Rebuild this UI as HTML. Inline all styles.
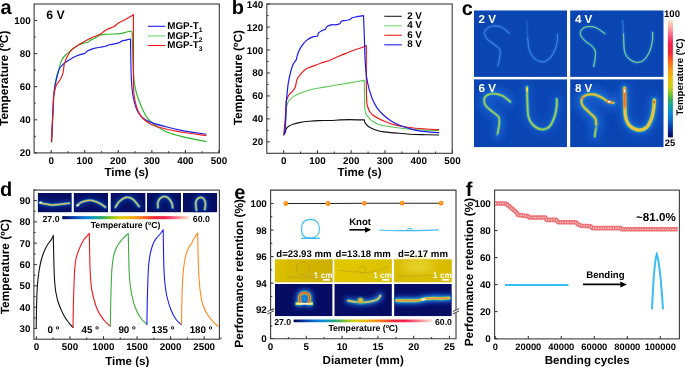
<!DOCTYPE html>
<html><head><meta charset="utf-8"><style>
html,body{margin:0;padding:0;background:#fff;width:685px;height:367px;overflow:hidden}
svg{display:block;font-family:"Liberation Sans", sans-serif;will-change:transform;text-rendering:geometricPrecision}
</style></head><body>
<svg width="685" height="367" viewBox="0 0 685 367">
<defs><filter id="b0_4" filterUnits="userSpaceOnUse" x="0" y="0" width="685" height="367"><feGaussianBlur stdDeviation="0.4"/></filter><filter id="b0_8" filterUnits="userSpaceOnUse" x="0" y="0" width="685" height="367"><feGaussianBlur stdDeviation="0.8"/></filter><filter id="b1_5" filterUnits="userSpaceOnUse" x="0" y="0" width="685" height="367"><feGaussianBlur stdDeviation="1.5"/></filter><filter id="b2_5" filterUnits="userSpaceOnUse" x="0" y="0" width="685" height="367"><feGaussianBlur stdDeviation="2.5"/></filter><filter id="b4" filterUnits="userSpaceOnUse" x="0" y="0" width="685" height="367"><feGaussianBlur stdDeviation="4"/></filter><clipPath id="cc0"><rect x="473.8" y="10.3" width="93.3" height="66.6"/></clipPath><clipPath id="cc1"><rect x="570.1" y="10.3" width="93.6" height="66.6"/></clipPath><clipPath id="cc2"><rect x="473.8" y="79.2" width="93.3" height="68.1"/></clipPath><clipPath id="cc3"><rect x="570.1" y="79.2" width="93.6" height="68.1"/></clipPath><linearGradient id="cbar" x1="0" y1="0" x2="0" y2="1">
<stop offset="0" stop-color="#fbe2c4"/><stop offset="0.05" stop-color="#fbb6a8"/><stop offset="0.12" stop-color="#fb6a88"/>
<stop offset="0.2" stop-color="#f4204c"/><stop offset="0.28" stop-color="#f42838"/><stop offset="0.34" stop-color="#f85a20"/>
<stop offset="0.42" stop-color="#f89a18"/><stop offset="0.5" stop-color="#ecc010"/><stop offset="0.56" stop-color="#d4d010"/>
<stop offset="0.62" stop-color="#88c428"/><stop offset="0.68" stop-color="#34ac5c"/><stop offset="0.74" stop-color="#10a0a8"/>
<stop offset="0.8" stop-color="#0c88dc"/><stop offset="0.87" stop-color="#0c5ec4"/><stop offset="0.93" stop-color="#0a30a0"/>
<stop offset="1" stop-color="#020650"/></linearGradient><clipPath id="dt0"><rect x="37.7" y="193" width="34.1" height="19.4"/></clipPath><clipPath id="dt1"><rect x="73.6" y="193" width="34.4" height="19.4"/></clipPath><clipPath id="dt2"><rect x="110.5" y="193" width="35.1" height="19.4"/></clipPath><clipPath id="dt3"><rect x="146.9" y="193" width="34.1" height="19.4"/></clipPath><clipPath id="dt4"><rect x="182.8" y="193" width="34.5" height="19.4"/></clipPath><linearGradient id="hbar" x1="0" y1="0" x2="1" y2="0">
<stop offset="0" stop-color="#020650"/><stop offset="0.07" stop-color="#0a30a0"/><stop offset="0.13" stop-color="#0c5ec4"/>
<stop offset="0.2" stop-color="#0c88dc"/><stop offset="0.26" stop-color="#10a0a8"/><stop offset="0.32" stop-color="#34ac5c"/>
<stop offset="0.38" stop-color="#88c428"/><stop offset="0.44" stop-color="#d4d010"/><stop offset="0.5" stop-color="#ecc010"/>
<stop offset="0.58" stop-color="#f89a18"/><stop offset="0.66" stop-color="#f85a20"/><stop offset="0.72" stop-color="#f42838"/>
<stop offset="0.8" stop-color="#f4204c"/><stop offset="0.88" stop-color="#fb6a88"/><stop offset="0.95" stop-color="#fbb6a8"/>
<stop offset="1" stop-color="#fbeee4"/></linearGradient><linearGradient id="pg0" x1="0" y1="0" x2="1" y2="0"><stop offset="0" stop-color="#dcc000"/><stop offset="1" stop-color="#cbae00"/></linearGradient><linearGradient id="pg1" x1="0" y1="0" x2="1" y2="0"><stop offset="0" stop-color="#e2c800"/><stop offset="1" stop-color="#dcc200"/></linearGradient><linearGradient id="pg2" x1="0" y1="0" x2="1" y2="0"><stop offset="0" stop-color="#d8bc00"/><stop offset="1" stop-color="#d8bc00"/></linearGradient><clipPath id="et0"><rect x="274.9" y="284.0" width="57.7" height="32.3"/></clipPath><clipPath id="et1"><rect x="334.3" y="284.0" width="57.6" height="32.3"/></clipPath><clipPath id="et2"><rect x="394.1" y="284.0" width="57.7" height="32.3"/></clipPath></defs>
<rect width="685" height="367" fill="#fff"/>
<text x="0.5" y="14" font-size="20" text-anchor="start" font-weight="bold" fill="#000" >a</text>
<path d="M51.6,142.2 L53.9,94 C54.1,92.5 54.58,88.17 55.1,85 C55.62,81.83 56.37,77.65 57,75 C57.63,72.35 58.18,71.43 58.9,69.1 C59.62,66.77 60.35,63.18 61.3,61 C62.25,58.82 62.95,57.78 64.6,56 C66.25,54.22 69.02,52.07 71.2,50.3 C73.38,48.53 75.73,46.53 77.7,45.4 C79.67,44.27 81.23,44.03 83,43.5 C84.77,42.97 87.42,42.42 88.3,42.2 C88.58,41.92 89.05,41.1 90,40.5 C90.95,39.9 92.33,39.48 94,38.6 C95.67,37.72 97.87,35.92 100,35.2 C102.13,34.48 103.4,34.57 106.8,34.3 C110.2,34.03 117.22,33.95 120.4,33.6 C123.58,33.25 124.3,32.6 125.9,32.2 C127.5,31.8 129.05,31.32 130,31.2 C130.95,31.08 131.23,31.28 131.6,31.5 C131.97,31.72 132.1,32.33 132.2,32.5 C132.27,35.42 132.42,43.75 132.6,50 C132.78,56.25 133.02,64.67 133.3,70 C133.58,75.33 133.82,78.33 134.3,82 C134.78,85.67 135.3,88.58 136.2,92 C137.1,95.42 138.3,98.92 139.7,102.5 C141.1,106.08 142.97,110.5 144.6,113.5 C146.23,116.5 147.32,118.28 149.5,120.5 C151.68,122.72 154.68,124.85 157.7,126.8 C160.72,128.75 163.5,130.57 167.6,132.2 C171.7,133.83 175.9,135.03 182.3,136.6 C188.7,138.17 202.05,140.77 206,141.6" fill="none" stroke="#2db82d" stroke-width="1.15" stroke-linejoin="round" stroke-linecap="round" />
<path d="M51.6,141.5 L53.7,95 C53.93,93.33 54.47,88.33 55.1,85 C55.73,81.67 56.73,77.78 57.5,75 C58.27,72.22 58.78,70.05 59.7,68.3 C60.62,66.55 61.9,65.58 63,64.5 C64.1,63.42 64.67,62.93 66.3,61.8 C67.93,60.67 70.63,58.85 72.8,57.7 C74.97,56.55 77.27,55.63 79.3,54.9 C81.33,54.17 84.05,53.57 85,53.3 C85.47,52.88 86.3,51.62 87.8,50.8 C89.3,49.98 91.97,49 94,48.4 C96.03,47.8 98.1,47.55 100,47.2 C101.9,46.85 103.82,46.7 105.4,46.3 C106.98,45.9 107.45,45.33 109.5,44.8 C111.55,44.27 115.65,43.72 117.7,43.1 C119.75,42.48 120.43,41.6 121.8,41.1 C123.17,40.6 124.45,40.45 125.9,40.1 C127.35,39.75 129.73,39.18 130.5,39 C130.55,42.5 130.65,53.17 130.8,60 C130.95,66.83 131.13,74.67 131.4,80 C131.67,85.33 131.97,88.58 132.4,92 C132.83,95.42 133.18,97.37 134,100.5 C134.82,103.63 136.07,108.12 137.3,110.8 C138.53,113.48 139.37,114.75 141.4,116.6 C143.43,118.45 145.42,120.2 149.5,121.9 C153.58,123.6 160.43,125.35 165.9,126.8 C171.37,128.25 175.62,129.37 182.3,130.6 C188.98,131.83 202.05,133.6 206,134.2" fill="none" stroke="#1c1cf0" stroke-width="1.15" stroke-linejoin="round" stroke-linecap="round" />
<path d="M51.4,141.2 L53.6,96 C53.75,95.33 54.03,93.83 54.5,92 C54.97,90.17 55.48,87 56.4,85 C57.32,83 58.9,81.97 60,80 C61.1,78.03 62.28,75.83 63,73.2 C63.72,70.57 63.48,67.2 64.3,64.2 C65.12,61.2 66.48,57.78 67.9,55.2 C69.32,52.62 70.9,50.47 72.8,48.7 C74.7,46.93 76.85,46.1 79.3,44.6 C81.75,43.1 85.05,41 87.5,39.7 C89.95,38.4 91.92,37.7 94,36.8 C96.08,35.9 97.87,35.52 100,34.3 C102.13,33.08 104.53,30.75 106.8,29.5 C109.07,28.25 111.57,27.93 113.6,26.8 C115.63,25.67 117.18,23.83 119,22.7 C120.82,21.57 122.78,20.9 124.5,20 C126.22,19.1 127.82,18.22 129.3,17.3 C130.78,16.38 132.72,14.97 133.4,14.5 C133.4,20.42 133.38,38.25 133.4,50 C133.42,61.75 133.37,77.33 133.5,85 C133.63,92.67 133.85,93 134.2,96 C134.55,99 134.97,100.5 135.6,103 C136.23,105.5 136.77,108.42 138,111 C139.23,113.58 140.8,116.27 143,118.5 C145.2,120.73 147.38,122.65 151.2,124.4 C155.02,126.15 160.72,127.7 165.9,129 C171.08,130.3 175.62,131.12 182.3,132.2 C188.98,133.28 202.05,134.95 206,135.5" fill="none" stroke="#f01818" stroke-width="1.15" stroke-linejoin="round" stroke-linecap="round" />
<rect x="34.1" y="4" width="185.2" height="148.9" fill="none" stroke="#3a3a3a" stroke-width="1.1"/>
<line x1="51.2" y1="152.9" x2="51.2" y2="149.9" stroke="#3a3a3a" stroke-width="1.1"/>
<line x1="84.75" y1="152.9" x2="84.75" y2="149.9" stroke="#3a3a3a" stroke-width="1.1"/>
<line x1="118.3" y1="152.9" x2="118.3" y2="149.9" stroke="#3a3a3a" stroke-width="1.1"/>
<line x1="151.85" y1="152.9" x2="151.85" y2="149.9" stroke="#3a3a3a" stroke-width="1.1"/>
<line x1="185.4" y1="152.9" x2="185.4" y2="149.9" stroke="#3a3a3a" stroke-width="1.1"/>
<line x1="218.95" y1="152.9" x2="218.95" y2="149.9" stroke="#3a3a3a" stroke-width="1.1"/>
<line x1="67.98" y1="152.9" x2="67.98" y2="151.2" stroke="#3a3a3a" stroke-width="1.1"/>
<line x1="101.53" y1="152.9" x2="101.53" y2="151.2" stroke="#3a3a3a" stroke-width="1.1"/>
<line x1="135.07" y1="152.9" x2="135.07" y2="151.2" stroke="#3a3a3a" stroke-width="1.1"/>
<line x1="168.62" y1="152.9" x2="168.62" y2="151.2" stroke="#3a3a3a" stroke-width="1.1"/>
<line x1="202.18" y1="152.9" x2="202.18" y2="151.2" stroke="#3a3a3a" stroke-width="1.1"/>
<text x="51.2" y="164.3" font-size="9.8" text-anchor="middle" font-weight="bold" fill="#000" >0</text>
<text x="84.75" y="164.3" font-size="9.8" text-anchor="middle" font-weight="bold" fill="#000" >100</text>
<text x="118.3" y="164.3" font-size="9.8" text-anchor="middle" font-weight="bold" fill="#000" >200</text>
<text x="151.85" y="164.3" font-size="9.8" text-anchor="middle" font-weight="bold" fill="#000" >300</text>
<text x="185.4" y="164.3" font-size="9.8" text-anchor="middle" font-weight="bold" fill="#000" >400</text>
<text x="218.95" y="164.3" font-size="9.8" text-anchor="middle" font-weight="bold" fill="#000" >500</text>
<line x1="34.1" y1="152.9" x2="37.1" y2="152.9" stroke="#3a3a3a" stroke-width="1.1"/>
<line x1="34.1" y1="119.79" x2="37.1" y2="119.79" stroke="#3a3a3a" stroke-width="1.1"/>
<line x1="34.1" y1="86.68" x2="37.1" y2="86.68" stroke="#3a3a3a" stroke-width="1.1"/>
<line x1="34.1" y1="53.57" x2="37.1" y2="53.57" stroke="#3a3a3a" stroke-width="1.1"/>
<line x1="34.1" y1="20.46" x2="37.1" y2="20.46" stroke="#3a3a3a" stroke-width="1.1"/>
<line x1="34.1" y1="136.34" x2="35.8" y2="136.34" stroke="#3a3a3a" stroke-width="1.1"/>
<line x1="34.1" y1="103.24" x2="35.8" y2="103.24" stroke="#3a3a3a" stroke-width="1.1"/>
<line x1="34.1" y1="70.12" x2="35.8" y2="70.12" stroke="#3a3a3a" stroke-width="1.1"/>
<line x1="34.1" y1="37.02" x2="35.8" y2="37.02" stroke="#3a3a3a" stroke-width="1.1"/>
<text x="30.6" y="156.4" font-size="9.8" text-anchor="end" font-weight="bold" fill="#000" >20</text>
<text x="30.6" y="123.29" font-size="9.8" text-anchor="end" font-weight="bold" fill="#000" >40</text>
<text x="30.6" y="90.18" font-size="9.8" text-anchor="end" font-weight="bold" fill="#000" >60</text>
<text x="30.6" y="57.07" font-size="9.8" text-anchor="end" font-weight="bold" fill="#000" >80</text>
<text x="30.6" y="23.96" font-size="9.8" text-anchor="end" font-weight="bold" fill="#000" >100</text>
<text x="126.6" y="176" font-size="11.6" text-anchor="middle" font-weight="bold" fill="#000" >Time (s)</text>
<text transform="translate(8.2,78.3) rotate(-90)" font-size="11.9" text-anchor="middle" font-weight="bold" fill="#000">Temperature (&#186;C)</text>
<text x="46.3" y="19.3" font-size="12.2" text-anchor="start" font-weight="bold" fill="#000" >6 V</text>
<line x1="148" y1="26.3" x2="165.3" y2="26.3" stroke="#1c1cf0" stroke-width="1.1"/>
<text x="167.3" y="28.9" font-size="9.8" font-weight="bold">MGP-T<tspan font-size="6.7" dy="3.0">1</tspan></text>
<line x1="148" y1="35.9" x2="165.3" y2="35.9" stroke="#6fd86f" stroke-width="1.1"/>
<text x="167.3" y="38.5" font-size="9.8" font-weight="bold">MGP-T<tspan font-size="6.7" dy="3.0">2</tspan></text>
<line x1="148" y1="45.5" x2="165.3" y2="45.5" stroke="#f01818" stroke-width="1.1"/>
<text x="167.3" y="48.1" font-size="9.8" font-weight="bold">MGP-T<tspan font-size="6.7" dy="3.0">3</tspan></text>
<text x="231.8" y="14" font-size="20" text-anchor="start" font-weight="bold" fill="#000" >b</text>
<path d="M283.9,134.7 C284.17,134.23 285.1,132.92 285.5,131.9 C285.9,130.88 285.75,129.55 286.3,128.6 C286.85,127.65 287.7,126.93 288.8,126.2 C289.9,125.47 291.13,124.8 292.9,124.2 C294.67,123.6 296.68,123.08 299.4,122.6 C302.12,122.12 305.93,121.63 309.2,121.3 C312.47,120.97 315.53,120.73 319,120.6 C322.47,120.47 326.53,120.62 330,120.5 C333.47,120.38 336.53,120.05 339.8,119.9 C343.07,119.75 345.52,119.6 349.6,119.6 C353.68,119.6 361.85,119.85 364.3,119.9 C364.43,120.4 364.28,121.72 365.1,122.9 C365.92,124.08 367.42,125.83 369.2,127 C370.98,128.17 373.33,129.08 375.8,129.9 C378.27,130.72 380.83,131.4 384,131.9 C387.17,132.4 390.55,132.52 394.8,132.9 C399.05,133.28 404.32,133.9 409.5,134.2 C414.68,134.5 421.05,134.57 425.9,134.7 C430.75,134.83 436.48,134.95 438.6,135" fill="none" stroke="#111" stroke-width="1.1" stroke-linejoin="round" stroke-linecap="round" />
<path d="M283.9,134.7 C284.18,132.25 285.17,124.62 285.6,120 C286.03,115.38 286.35,109.17 286.5,107 C286.88,105.97 287.47,102.65 288.8,100.8 C290.13,98.95 292.18,97.32 294.5,95.9 C296.82,94.48 299.7,93.4 302.7,92.3 C305.7,91.2 309.5,90.07 312.5,89.3 C315.5,88.53 317.78,88.22 320.7,87.7 C323.62,87.18 326.82,86.73 330,86.2 C333.18,85.67 336.53,85.05 339.8,84.5 C343.07,83.95 345.52,83.58 349.6,82.9 C353.68,82.22 361.85,80.82 364.3,80.4 C364.33,82.83 364.42,90.4 364.5,95 C364.58,99.6 364.58,104.92 364.8,108 C365.02,111.08 365.33,112.12 365.8,113.5 C366.27,114.88 366.48,115 367.6,116.3 C368.72,117.6 370.6,119.93 372.5,121.3 C374.4,122.67 376.08,123.58 379,124.5 C381.92,125.42 384.92,126.03 390,126.8 C395.08,127.57 403.52,128.55 409.5,129.1 C415.48,129.65 421.05,129.85 425.9,130.1 C430.75,130.35 436.48,130.52 438.6,130.6" fill="none" stroke="#55c855" stroke-width="1.1" stroke-linejoin="round" stroke-linecap="round" />
<path d="M283.9,134.7 C284.17,131.42 285.1,120.65 285.5,115 C285.9,109.35 286.17,103.17 286.3,100.8 C286.72,99.83 287.85,96.5 288.8,95 C289.75,93.5 290.92,93.15 292,91.8 C293.08,90.45 294.47,88.95 295.3,86.9 C296.13,84.85 296.18,81.55 297,79.5 C297.82,77.45 298.7,76.37 300.2,74.6 C301.7,72.83 303.95,70.27 306,68.9 C308.05,67.53 310.05,67.35 312.5,66.4 C314.95,65.45 317.78,64.23 320.7,63.2 C323.62,62.17 327.08,61.32 330,60.2 C332.92,59.08 335.48,57.67 338.2,56.5 C340.92,55.33 343.58,54.28 346.3,53.2 C349.02,52.12 351.77,51 354.5,50 C357.23,49 360.73,47.95 362.7,47.2 C364.67,46.45 365.7,45.78 366.3,45.5 C366.3,50.42 366.25,65.92 366.3,75 C366.35,84.08 366.4,94.83 366.6,100 C366.8,105.17 367.03,104.17 367.5,106 C367.97,107.83 368.57,109.55 369.4,111 C370.23,112.45 370.9,113.4 372.5,114.7 C374.1,116 376.92,117.67 379,118.8 C381.08,119.93 382.37,120.5 385,121.5 C387.63,122.5 390.72,123.8 394.8,124.8 C398.88,125.8 404.32,126.8 409.5,127.5 C414.68,128.2 421.05,128.63 425.9,129 C430.75,129.37 436.48,129.58 438.6,129.7" fill="none" stroke="#f01818" stroke-width="1.2" stroke-linejoin="round" stroke-linecap="round" />
<path d="M283.9,134.7 C283.98,134.5 284.17,134.65 284.4,133.5 C284.63,132.35 285.05,130.88 285.3,127.8 C285.55,124.72 285.73,119.23 285.9,115 C286.07,110.77 286.08,106.13 286.3,102.4 C286.52,98.67 286.87,95.87 287.2,92.6 C287.53,89.33 287.77,86.07 288.3,82.8 C288.83,79.53 289.63,76 290.4,73 C291.17,70 291.92,67 292.9,64.8 C293.88,62.6 295.73,60.63 296.3,59.8 C296.58,58.7 297.17,55.38 298,53.2 C298.83,51.02 299.93,48.8 301.3,46.7 C302.67,44.6 304.3,42.23 306.2,40.6 C308.1,38.97 310.8,37.65 312.7,36.9 C314.6,36.15 316.65,36.73 317.6,36.1 C318.55,35.47 317.58,34.07 318.4,33.1 C319.22,32.13 321.4,30.9 322.5,30.3 C323.6,29.7 324.18,30.17 325,29.5 C325.82,28.83 326.18,27.12 327.4,26.3 C328.62,25.48 331.05,24.83 332.3,24.6 C333.55,24.37 333.65,25.03 334.9,24.9 C336.15,24.77 338.72,24.4 339.8,23.8 C340.88,23.2 340.45,21.85 341.4,21.3 C342.35,20.75 344.13,20.77 345.5,20.5 C346.87,20.23 348.5,20.15 349.6,19.7 C350.7,19.25 351,18.28 352.1,17.8 C353.2,17.32 354.3,17.17 356.2,16.8 C358.1,16.43 362.28,15.8 363.5,15.6 C363.63,18.83 364.03,27.6 364.3,35 C364.57,42.4 364.72,53 365.1,60 C365.48,67 365.92,72.1 366.6,77 C367.28,81.9 368.22,85.7 369.2,89.4 C370.18,93.1 371.13,96.03 372.5,99.2 C373.87,102.37 375.48,105.68 377.4,108.4 C379.32,111.12 381.65,113.37 384,115.5 C386.35,117.63 388.88,119.58 391.5,121.2 C394.12,122.82 396.7,123.98 399.7,125.2 C402.7,126.42 405.95,127.52 409.5,128.5 C413.05,129.48 416.15,130.42 421,131.1 C425.85,131.78 435.67,132.35 438.6,132.6" fill="none" stroke="#1c1cf0" stroke-width="1.2" stroke-linejoin="round" stroke-linecap="round" />
<rect x="266.8" y="4" width="185.4" height="149.3" fill="none" stroke="#3a3a3a" stroke-width="1.1"/>
<line x1="283.7" y1="153.3" x2="283.7" y2="150.3" stroke="#3a3a3a" stroke-width="1.1"/>
<line x1="317.45" y1="153.3" x2="317.45" y2="150.3" stroke="#3a3a3a" stroke-width="1.1"/>
<line x1="351.2" y1="153.3" x2="351.2" y2="150.3" stroke="#3a3a3a" stroke-width="1.1"/>
<line x1="384.95" y1="153.3" x2="384.95" y2="150.3" stroke="#3a3a3a" stroke-width="1.1"/>
<line x1="418.7" y1="153.3" x2="418.7" y2="150.3" stroke="#3a3a3a" stroke-width="1.1"/>
<line x1="452.45" y1="153.3" x2="452.45" y2="150.3" stroke="#3a3a3a" stroke-width="1.1"/>
<line x1="300.57" y1="153.3" x2="300.57" y2="151.6" stroke="#3a3a3a" stroke-width="1.1"/>
<line x1="334.32" y1="153.3" x2="334.32" y2="151.6" stroke="#3a3a3a" stroke-width="1.1"/>
<line x1="368.07" y1="153.3" x2="368.07" y2="151.6" stroke="#3a3a3a" stroke-width="1.1"/>
<line x1="401.82" y1="153.3" x2="401.82" y2="151.6" stroke="#3a3a3a" stroke-width="1.1"/>
<line x1="435.57" y1="153.3" x2="435.57" y2="151.6" stroke="#3a3a3a" stroke-width="1.1"/>
<text x="283.7" y="164.3" font-size="9.8" text-anchor="middle" font-weight="bold" fill="#000" >0</text>
<text x="317.45" y="164.3" font-size="9.8" text-anchor="middle" font-weight="bold" fill="#000" >100</text>
<text x="351.2" y="164.3" font-size="9.8" text-anchor="middle" font-weight="bold" fill="#000" >200</text>
<text x="384.95" y="164.3" font-size="9.8" text-anchor="middle" font-weight="bold" fill="#000" >300</text>
<text x="418.7" y="164.3" font-size="9.8" text-anchor="middle" font-weight="bold" fill="#000" >400</text>
<text x="452.45" y="164.3" font-size="9.8" text-anchor="middle" font-weight="bold" fill="#000" >500</text>
<line x1="266.8" y1="141.82" x2="269.8" y2="141.82" stroke="#3a3a3a" stroke-width="1.1"/>
<line x1="266.8" y1="118.87" x2="269.8" y2="118.87" stroke="#3a3a3a" stroke-width="1.1"/>
<line x1="266.8" y1="95.92" x2="269.8" y2="95.92" stroke="#3a3a3a" stroke-width="1.1"/>
<line x1="266.8" y1="72.96" x2="269.8" y2="72.96" stroke="#3a3a3a" stroke-width="1.1"/>
<line x1="266.8" y1="50.01" x2="269.8" y2="50.01" stroke="#3a3a3a" stroke-width="1.1"/>
<line x1="266.8" y1="27.05" x2="269.8" y2="27.05" stroke="#3a3a3a" stroke-width="1.1"/>
<line x1="266.8" y1="4.1" x2="269.8" y2="4.1" stroke="#3a3a3a" stroke-width="1.1"/>
<line x1="266.8" y1="130.35" x2="268.5" y2="130.35" stroke="#3a3a3a" stroke-width="1.1"/>
<line x1="266.8" y1="107.39" x2="268.5" y2="107.39" stroke="#3a3a3a" stroke-width="1.1"/>
<line x1="266.8" y1="84.44" x2="268.5" y2="84.44" stroke="#3a3a3a" stroke-width="1.1"/>
<line x1="266.8" y1="61.48" x2="268.5" y2="61.48" stroke="#3a3a3a" stroke-width="1.1"/>
<line x1="266.8" y1="38.53" x2="268.5" y2="38.53" stroke="#3a3a3a" stroke-width="1.1"/>
<line x1="266.8" y1="15.58" x2="268.5" y2="15.58" stroke="#3a3a3a" stroke-width="1.1"/>
<text x="263.2" y="145.32" font-size="9.8" text-anchor="end" font-weight="bold" fill="#000" >20</text>
<text x="263.2" y="122.37" font-size="9.8" text-anchor="end" font-weight="bold" fill="#000" >40</text>
<text x="263.2" y="99.42" font-size="9.8" text-anchor="end" font-weight="bold" fill="#000" >60</text>
<text x="263.2" y="76.46" font-size="9.8" text-anchor="end" font-weight="bold" fill="#000" >80</text>
<text x="263.2" y="53.51" font-size="9.8" text-anchor="end" font-weight="bold" fill="#000" >100</text>
<text x="263.2" y="30.55" font-size="9.8" text-anchor="end" font-weight="bold" fill="#000" >120</text>
<text x="263.2" y="7.6" font-size="9.8" text-anchor="end" font-weight="bold" fill="#000" >140</text>
<text x="359.5" y="176.3" font-size="11.6" text-anchor="middle" font-weight="bold" fill="#000" >Time (s)</text>
<text transform="translate(242.2,77.7) rotate(-90)" font-size="11.9" text-anchor="middle" font-weight="bold" fill="#000">Temperature (&#186;C)</text>
<line x1="384.3" y1="16.3" x2="401.8" y2="16.3" stroke="#222" stroke-width="1.1"/>
<text x="407.2" y="18.8" font-size="9.8" text-anchor="start" font-weight="bold" fill="#000" >2 V</text>
<line x1="384.3" y1="25.8" x2="401.8" y2="25.8" stroke="#6fd86f" stroke-width="1.1"/>
<text x="407.2" y="28.3" font-size="9.8" text-anchor="start" font-weight="bold" fill="#000" >4 V</text>
<line x1="384.3" y1="35.3" x2="401.8" y2="35.3" stroke="#f02020" stroke-width="1.1"/>
<text x="407.2" y="37.8" font-size="9.8" text-anchor="start" font-weight="bold" fill="#000" >6 V</text>
<line x1="384.3" y1="44.8" x2="401.8" y2="44.8" stroke="#2020f0" stroke-width="1.1"/>
<text x="407.2" y="47.3" font-size="9.8" text-anchor="start" font-weight="bold" fill="#000" >8 V</text>
<text x="461.8" y="15.3" font-size="20" text-anchor="start" font-weight="bold" fill="#000" >c</text>
<g clip-path="url(#cc0)">
<rect x="473.8" y="10.3" width="93.3" height="66.6" fill="#0b45b2"/>
<path d="M509.1,33.1 C507.72,32.03 503.73,27.83 500.8,26.7 C497.87,25.57 493.97,25.85 491.5,26.3 C489.03,26.75 487.17,28.12 486,29.4 C484.83,30.68 484.2,32.3 484.5,34 C484.8,35.7 486.02,37.73 487.8,39.6 C489.58,41.47 493.18,43.5 495.2,45.2 C497.22,46.9 499.12,47.95 499.9,49.8 C500.68,51.65 500.22,53.67 499.9,56.3 C499.58,58.93 498.32,64.05 498,65.6" fill="none" stroke="#1858c4" stroke-width="2.8" stroke-linecap="round" stroke-linejoin="round" filter="url(#b0_8)"/>
<path d="M509.1,33.1 C507.72,32.03 503.73,27.83 500.8,26.7 C497.87,25.57 493.97,25.85 491.5,26.3 C489.03,26.75 487.17,28.12 486,29.4 C484.83,30.68 484.2,32.3 484.5,34 C484.8,35.7 486.02,37.73 487.8,39.6 C489.58,41.47 493.18,43.5 495.2,45.2 C497.22,46.9 499.12,47.95 499.9,49.8 C500.68,51.65 500.22,53.67 499.9,56.3 C499.58,58.93 498.32,64.05 498,65.6" fill="none" stroke="#3a86dc" stroke-width="1.1" stroke-linecap="round" stroke-linejoin="round" filter="url(#b0_3)"/>
<g opacity="0.45">
<path d="M527,21.1 C527.05,22.58 527.2,27.22 527.3,30 C527.4,32.78 527.55,36.5 527.6,37.8" fill="none" stroke="#1858c4" stroke-width="2.8" stroke-linecap="round" stroke-linejoin="round" filter="url(#b0_8)"/>
<path d="M527,21.1 C527.05,22.58 527.2,27.22 527.3,30 C527.4,32.78 527.55,36.5 527.6,37.8" fill="none" stroke="#3a86dc" stroke-width="1.1" stroke-linecap="round" stroke-linejoin="round" filter="url(#b0_3)"/>
</g>
<path d="M527.6,37.8 C527.92,39.95 528.43,47.32 529.5,50.7 C530.57,54.08 532,56.23 534,58.1 C536,59.97 539.02,61.73 541.5,61.9 C543.98,62.07 546.73,60.97 548.9,59.1 C551.07,57.23 553.1,53.63 554.5,50.7 C555.9,47.77 556.83,44.27 557.3,41.5 C557.77,38.73 557.3,35.33 557.3,34.1" fill="none" stroke="#1858c4" stroke-width="2.8" stroke-linecap="round" stroke-linejoin="round" filter="url(#b0_8)"/>
<path d="M527.6,37.8 C527.92,39.95 528.43,47.32 529.5,50.7 C530.57,54.08 532,56.23 534,58.1 C536,59.97 539.02,61.73 541.5,61.9 C543.98,62.07 546.73,60.97 548.9,59.1 C551.07,57.23 553.1,53.63 554.5,50.7 C555.9,47.77 556.83,44.27 557.3,41.5 C557.77,38.73 557.3,35.33 557.3,34.1" fill="none" stroke="#3a86dc" stroke-width="1.1" stroke-linecap="round" stroke-linejoin="round" filter="url(#b0_3)"/>
</g>
<text x="478.6" y="23.1" font-size="11.6" text-anchor="start" font-weight="bold" fill="#fff" >2 V</text>
<g clip-path="url(#cc1)">
<rect x="570.1" y="10.3" width="93.6" height="66.6" fill="#0b45b2"/>
<path d="M605,33.7 C603.47,32.68 598.88,28.77 595.8,27.6 C592.72,26.43 588.97,26.23 586.5,26.7 C584.03,27.17 581.98,29.02 581,30.4 C580.02,31.78 579.98,33.3 580.6,35 C581.22,36.7 582.8,38.75 584.7,40.6 C586.6,42.45 590.22,44.25 592,46.1 C593.78,47.95 594.92,49.38 595.4,51.7 C595.88,54.02 595.2,57.53 594.9,60 C594.6,62.47 593.82,65.42 593.6,66.5" fill="none" stroke="#1860c8" stroke-width="3.0" stroke-linecap="round" stroke-linejoin="round" filter="url(#b0_8)"/>
<path d="M605,33.7 C603.47,32.68 598.88,28.77 595.8,27.6 C592.72,26.43 588.97,26.23 586.5,26.7 C584.03,27.17 581.98,29.02 581,30.4 C580.02,31.78 579.98,33.3 580.6,35 C581.22,36.7 582.8,38.75 584.7,40.6 C586.6,42.45 590.22,44.25 592,46.1 C593.78,47.95 594.92,49.38 595.4,51.7 C595.88,54.02 595.2,57.53 594.9,60 C594.6,62.47 593.82,65.42 593.6,66.5" fill="none" stroke="#2c9cc0" stroke-width="1.5" stroke-linecap="round" stroke-linejoin="round" filter="url(#b0_35)"/>
<path d="M605,33.7 C603.47,32.68 598.88,28.77 595.8,27.6 C592.72,26.43 588.97,26.23 586.5,26.7 C584.03,27.17 581.98,29.02 581,30.4 C580.02,31.78 579.98,33.3 580.6,35 C581.22,36.7 582.8,38.75 584.7,40.6 C586.6,42.45 590.22,44.25 592,46.1 C593.78,47.95 594.92,49.38 595.4,51.7 C595.88,54.02 595.2,57.53 594.9,60 C594.6,62.47 593.82,65.42 593.6,66.5" fill="none" stroke="#a0d070" stroke-width="0.8" stroke-linecap="round" stroke-linejoin="round" filter="url(#b0_25)"/>
<g opacity="0.8">
<path d="M622.6,20.2 C622.68,21.33 622.95,24.7 623.1,27 C623.25,29.3 623.43,32.83 623.5,34" fill="none" stroke="#1858c4" stroke-width="2.8" stroke-linecap="round" stroke-linejoin="round" filter="url(#b0_8)"/>
<path d="M622.6,20.2 C622.68,21.33 622.95,24.7 623.1,27 C623.25,29.3 623.43,32.83 623.5,34" fill="none" stroke="#3a86dc" stroke-width="1.1" stroke-linecap="round" stroke-linejoin="round" filter="url(#b0_3)"/>
</g>
<path d="M623.5,34 C623.67,36.78 623.72,46.68 624.5,50.7 C625.28,54.72 626.2,56.15 628.2,58.1 C630.2,60.05 633.88,62.08 636.5,62.4 C639.12,62.72 641.73,61.78 643.9,60 C646.07,58.22 648.1,54.78 649.5,51.7 C650.9,48.62 651.78,44.75 652.3,41.5 C652.82,38.25 652.55,33.75 652.6,32.2" fill="none" stroke="#1860c8" stroke-width="3.0" stroke-linecap="round" stroke-linejoin="round" filter="url(#b0_8)"/>
<path d="M623.5,34 C623.67,36.78 623.72,46.68 624.5,50.7 C625.28,54.72 626.2,56.15 628.2,58.1 C630.2,60.05 633.88,62.08 636.5,62.4 C639.12,62.72 641.73,61.78 643.9,60 C646.07,58.22 648.1,54.78 649.5,51.7 C650.9,48.62 651.78,44.75 652.3,41.5 C652.82,38.25 652.55,33.75 652.6,32.2" fill="none" stroke="#2c9cc0" stroke-width="1.5" stroke-linecap="round" stroke-linejoin="round" filter="url(#b0_35)"/>
<path d="M623.5,34 C623.67,36.78 623.72,46.68 624.5,50.7 C625.28,54.72 626.2,56.15 628.2,58.1 C630.2,60.05 633.88,62.08 636.5,62.4 C639.12,62.72 641.73,61.78 643.9,60 C646.07,58.22 648.1,54.78 649.5,51.7 C650.9,48.62 651.78,44.75 652.3,41.5 C652.82,38.25 652.55,33.75 652.6,32.2" fill="none" stroke="#a0d070" stroke-width="0.8" stroke-linecap="round" stroke-linejoin="round" filter="url(#b0_25)"/>
</g>
<text x="574.9" y="23.1" font-size="11.6" text-anchor="start" font-weight="bold" fill="#fff" >4 V</text>
<g clip-path="url(#cc2)">
<rect x="473.8" y="79.2" width="93.3" height="68.1" fill="#0b45b2"/>
<path d="M510.3,101.8 C509.12,100.87 505.72,97.55 503.2,96.2 C500.68,94.85 497.88,93.87 495.2,93.7 C492.52,93.53 488.95,94.12 487.1,95.2 C485.25,96.28 484.27,98.37 484.1,100.2 C483.93,102.03 484.58,104.18 486.1,106.2 C487.62,108.22 491.08,110.45 493.2,112.3 C495.32,114.15 497.8,115.28 498.8,117.3 C499.8,119.32 499.3,122.22 499.2,124.4 C499.1,126.58 498.53,128.55 498.2,130.4 C497.87,132.25 497.37,134.65 497.2,135.5" fill="none" stroke="#1c64d4" stroke-width="10" stroke-linecap="round" stroke-linejoin="round" opacity="0.55" filter="url(#b4)"/>
<path d="M510.3,101.8 C509.12,100.87 505.72,97.55 503.2,96.2 C500.68,94.85 497.88,93.87 495.2,93.7 C492.52,93.53 488.95,94.12 487.1,95.2 C485.25,96.28 484.27,98.37 484.1,100.2 C483.93,102.03 484.58,104.18 486.1,106.2 C487.62,108.22 491.08,110.45 493.2,112.3 C495.32,114.15 497.8,115.28 498.8,117.3 C499.8,119.32 499.3,122.22 499.2,124.4 C499.1,126.58 498.47,128.88 498.2,130.4 C497.93,131.92 497.7,132.98 497.6,133.5" fill="none" stroke="#1c64d4" stroke-width="10" stroke-linecap="round" stroke-linejoin="round" opacity="0.55" filter="url(#b4)"/>
<path d="M527,87.1 C527.07,89.62 527.17,97.33 527.4,102.2 C527.63,107.07 527.55,112.6 528.4,116.3 C529.25,120 530.32,122.22 532.5,124.4 C534.68,126.58 538.65,129.07 541.5,129.4 C544.35,129.73 547.4,128.58 549.6,126.4 C551.8,124.22 553.52,119.67 554.7,116.3 C555.88,112.93 556.37,109.05 556.7,106.2 C557.03,103.35 556.7,100.37 556.7,99.2" fill="none" stroke="#1c64d4" stroke-width="10" stroke-linecap="round" stroke-linejoin="round" opacity="0.55" filter="url(#b4)"/>
<path d="M510.3,101.8 C509.12,100.87 505.72,97.55 503.2,96.2 C500.68,94.85 497.88,93.87 495.2,93.7 C492.52,93.53 488.95,94.12 487.1,95.2 C485.25,96.28 484.27,98.37 484.1,100.2 C483.93,102.03 484.58,104.18 486.1,106.2 C487.62,108.22 491.08,110.45 493.2,112.3 C495.32,114.15 497.8,115.28 498.8,117.3 C499.8,119.32 499.3,122.22 499.2,124.4 C499.1,126.58 498.53,128.55 498.2,130.4 C497.87,132.25 497.37,134.65 497.2,135.5" fill="none" stroke="#1860c8" stroke-width="3.0" stroke-linecap="round" stroke-linejoin="round" filter="url(#b0_8)"/>
<path d="M510.3,101.8 C509.12,100.87 505.72,97.55 503.2,96.2 C500.68,94.85 497.88,93.87 495.2,93.7 C492.52,93.53 488.95,94.12 487.1,95.2 C485.25,96.28 484.27,98.37 484.1,100.2 C483.93,102.03 484.58,104.18 486.1,106.2 C487.62,108.22 491.08,110.45 493.2,112.3 C495.32,114.15 497.8,115.28 498.8,117.3 C499.8,119.32 499.3,122.22 499.2,124.4 C499.1,126.58 498.53,128.55 498.2,130.4 C497.87,132.25 497.37,134.65 497.2,135.5" fill="none" stroke="#2c9cc0" stroke-width="1.5" stroke-linecap="round" stroke-linejoin="round" filter="url(#b0_35)"/>
<path d="M510.3,101.8 C509.12,100.87 505.72,97.55 503.2,96.2 C500.68,94.85 497.88,93.87 495.2,93.7 C492.52,93.53 488.95,94.12 487.1,95.2 C485.25,96.28 484.27,98.37 484.1,100.2 C483.93,102.03 484.58,104.18 486.1,106.2 C487.62,108.22 491.08,110.45 493.2,112.3 C495.32,114.15 497.8,115.28 498.8,117.3 C499.8,119.32 499.3,122.22 499.2,124.4 C499.1,126.58 498.53,128.55 498.2,130.4 C497.87,132.25 497.37,134.65 497.2,135.5" fill="none" stroke="#a0d070" stroke-width="0.8" stroke-linecap="round" stroke-linejoin="round" filter="url(#b0_25)"/>
<path d="M510.3,101.8 C509.12,100.87 505.72,97.55 503.2,96.2 C500.68,94.85 497.88,93.87 495.2,93.7 C492.52,93.53 488.95,94.12 487.1,95.2 C485.25,96.28 484.27,98.37 484.1,100.2 C483.93,102.03 484.58,104.18 486.1,106.2 C487.62,108.22 491.08,110.45 493.2,112.3 C495.32,114.15 497.8,115.28 498.8,117.3 C499.8,119.32 499.3,122.22 499.2,124.4 C499.1,126.58 498.47,128.88 498.2,130.4 C497.93,131.92 497.7,132.98 497.6,133.5" fill="none" stroke="#1a68cc" stroke-width="4.4" stroke-linecap="round" stroke-linejoin="round" filter="url(#b1_2)"/>
<path d="M510.3,101.8 C509.12,100.87 505.72,97.55 503.2,96.2 C500.68,94.85 497.88,93.87 495.2,93.7 C492.52,93.53 488.95,94.12 487.1,95.2 C485.25,96.28 484.27,98.37 484.1,100.2 C483.93,102.03 484.58,104.18 486.1,106.2 C487.62,108.22 491.08,110.45 493.2,112.3 C495.32,114.15 497.8,115.28 498.8,117.3 C499.8,119.32 499.3,122.22 499.2,124.4 C499.1,126.58 498.47,128.88 498.2,130.4 C497.93,131.92 497.7,132.98 497.6,133.5" fill="none" stroke="#30a8a0" stroke-width="2.6" stroke-linecap="round" stroke-linejoin="round" filter="url(#b0_5)"/>
<path d="M510.3,101.8 C509.12,100.87 505.72,97.55 503.2,96.2 C500.68,94.85 497.88,93.87 495.2,93.7 C492.52,93.53 488.95,94.12 487.1,95.2 C485.25,96.28 484.27,98.37 484.1,100.2 C483.93,102.03 484.58,104.18 486.1,106.2 C487.62,108.22 491.08,110.45 493.2,112.3 C495.32,114.15 497.8,115.28 498.8,117.3 C499.8,119.32 499.3,122.22 499.2,124.4 C499.1,126.58 498.47,128.88 498.2,130.4 C497.93,131.92 497.7,132.98 497.6,133.5" fill="none" stroke="#b8c850" stroke-width="1.4" stroke-linecap="round" stroke-linejoin="round" filter="url(#b0_4)"/>
<path d="M527,87.1 C527.07,89.62 527.17,97.33 527.4,102.2 C527.63,107.07 527.55,112.6 528.4,116.3 C529.25,120 530.32,122.22 532.5,124.4 C534.68,126.58 538.65,129.07 541.5,129.4 C544.35,129.73 547.4,128.58 549.6,126.4 C551.8,124.22 553.52,119.67 554.7,116.3 C555.88,112.93 556.37,109.05 556.7,106.2 C557.03,103.35 556.7,100.37 556.7,99.2" fill="none" stroke="#1a68cc" stroke-width="4.6" stroke-linecap="round" stroke-linejoin="round" filter="url(#b1_2)"/>
<path d="M527,87.1 C527.07,89.62 527.17,97.33 527.4,102.2 C527.63,107.07 527.55,112.6 528.4,116.3 C529.25,120 530.32,122.22 532.5,124.4 C534.68,126.58 538.65,129.07 541.5,129.4 C544.35,129.73 547.4,128.58 549.6,126.4 C551.8,124.22 553.52,119.67 554.7,116.3 C555.88,112.93 556.37,109.05 556.7,106.2 C557.03,103.35 556.7,100.37 556.7,99.2" fill="none" stroke="#30a8a0" stroke-width="2.8" stroke-linecap="round" stroke-linejoin="round" filter="url(#b0_5)"/>
<path d="M527,87.1 C527.07,89.62 527.17,97.33 527.4,102.2 C527.63,107.07 527.55,112.6 528.4,116.3 C529.25,120 530.32,122.22 532.5,124.4 C534.68,126.58 538.65,129.07 541.5,129.4 C544.35,129.73 547.4,128.58 549.6,126.4 C551.8,124.22 553.52,119.67 554.7,116.3 C555.88,112.93 556.37,109.05 556.7,106.2 C557.03,103.35 556.7,100.37 556.7,99.2" fill="none" stroke="#b0c850" stroke-width="1.5" stroke-linecap="round" stroke-linejoin="round" filter="url(#b0_4)"/>
<ellipse cx="527.1" cy="89.5" rx="1.1" ry="2.2" fill="#f0e040" filter="url(#b0_4)"/>
</g>
<text x="478.6" y="92" font-size="11.6" text-anchor="start" font-weight="bold" fill="#fff" >6 V</text>
<g clip-path="url(#cc3)">
<rect x="570.1" y="79.2" width="93.6" height="68.1" fill="#0b45b2"/>
<path d="M613.4,102.8 C612.55,102.63 610.15,102.63 608.3,101.8 C606.45,100.97 604.65,99.02 602.3,97.8 C599.95,96.58 596.9,94.93 594.2,94.5 C591.5,94.07 588.18,94.42 586.1,95.2 C584.02,95.98 582.3,97.53 581.7,99.2 C581.1,100.87 581.25,103.02 582.5,105.2 C583.75,107.38 587.08,110.12 589.2,112.3 C591.32,114.48 594.03,115.95 595.2,118.3 C596.37,120.65 596.15,124.28 596.2,126.4 C596.25,128.52 595.73,129.32 595.5,131 C595.27,132.68 594.92,135.58 594.8,136.5" fill="none" stroke="#1c64d4" stroke-width="13" stroke-linecap="round" stroke-linejoin="round" opacity="0.55" filter="url(#b4)"/>
<path d="M613.4,102.8 C612.55,102.63 610.15,102.63 608.3,101.8 C606.45,100.97 604.65,99.02 602.3,97.8 C599.95,96.58 596.9,94.93 594.2,94.5 C591.5,94.07 588.18,94.42 586.1,95.2 C584.02,95.98 582.3,97.53 581.7,99.2 C581.1,100.87 581.25,103.02 582.5,105.2 C583.75,107.38 587.08,110.12 589.2,112.3 C591.32,114.48 594.03,116.27 595.2,118.3 C596.37,120.33 596.03,123.47 596.2,124.5" fill="none" stroke="#1c64d4" stroke-width="13" stroke-linecap="round" stroke-linejoin="round" opacity="0.55" filter="url(#b4)"/>
<path d="M624.5,88.1 C624.57,90.45 624.73,97.5 624.9,102.2 C625.07,106.9 624.73,112.43 625.5,116.3 C626.27,120.17 627.32,123.12 629.5,125.4 C631.68,127.68 635.75,129.67 638.6,130 C641.45,130.33 644.42,129.35 646.6,127.4 C648.78,125.45 650.52,121.48 651.7,118.3 C652.88,115.12 653.27,111.32 653.7,108.3 C654.13,105.28 654.2,101.55 654.3,100.2" fill="none" stroke="#1c64d4" stroke-width="13" stroke-linecap="round" stroke-linejoin="round" opacity="0.55" filter="url(#b4)"/>
<path d="M613.4,102.8 C612.55,102.63 610.15,102.63 608.3,101.8 C606.45,100.97 604.65,99.02 602.3,97.8 C599.95,96.58 596.9,94.93 594.2,94.5 C591.5,94.07 588.18,94.42 586.1,95.2 C584.02,95.98 582.3,97.53 581.7,99.2 C581.1,100.87 581.25,103.02 582.5,105.2 C583.75,107.38 587.08,110.12 589.2,112.3 C591.32,114.48 594.03,115.95 595.2,118.3 C596.37,120.65 596.15,124.28 596.2,126.4 C596.25,128.52 595.73,129.32 595.5,131 C595.27,132.68 594.92,135.58 594.8,136.5" fill="none" stroke="#1a68cc" stroke-width="4.4" stroke-linecap="round" stroke-linejoin="round" filter="url(#b1_2)"/>
<path d="M613.4,102.8 C612.55,102.63 610.15,102.63 608.3,101.8 C606.45,100.97 604.65,99.02 602.3,97.8 C599.95,96.58 596.9,94.93 594.2,94.5 C591.5,94.07 588.18,94.42 586.1,95.2 C584.02,95.98 582.3,97.53 581.7,99.2 C581.1,100.87 581.25,103.02 582.5,105.2 C583.75,107.38 587.08,110.12 589.2,112.3 C591.32,114.48 594.03,115.95 595.2,118.3 C596.37,120.65 596.15,124.28 596.2,126.4 C596.25,128.52 595.73,129.32 595.5,131 C595.27,132.68 594.92,135.58 594.8,136.5" fill="none" stroke="#30a8a0" stroke-width="2.6" stroke-linecap="round" stroke-linejoin="round" filter="url(#b0_5)"/>
<path d="M613.4,102.8 C612.55,102.63 610.15,102.63 608.3,101.8 C606.45,100.97 604.65,99.02 602.3,97.8 C599.95,96.58 596.9,94.93 594.2,94.5 C591.5,94.07 588.18,94.42 586.1,95.2 C584.02,95.98 582.3,97.53 581.7,99.2 C581.1,100.87 581.25,103.02 582.5,105.2 C583.75,107.38 587.08,110.12 589.2,112.3 C591.32,114.48 594.03,115.95 595.2,118.3 C596.37,120.65 596.15,124.28 596.2,126.4 C596.25,128.52 595.73,129.32 595.5,131 C595.27,132.68 594.92,135.58 594.8,136.5" fill="none" stroke="#b8c850" stroke-width="1.4" stroke-linecap="round" stroke-linejoin="round" filter="url(#b0_4)"/>
<path d="M613.4,102.8 C612.55,102.63 610.15,102.63 608.3,101.8 C606.45,100.97 604.65,99.02 602.3,97.8 C599.95,96.58 596.9,94.93 594.2,94.5 C591.5,94.07 588.18,94.42 586.1,95.2 C584.02,95.98 582.3,97.53 581.7,99.2 C581.1,100.87 581.25,103.02 582.5,105.2 C583.75,107.38 587.08,110.12 589.2,112.3 C591.32,114.48 594.03,116.27 595.2,118.3 C596.37,120.33 596.03,123.47 596.2,124.5" fill="none" stroke="#1a74d4" stroke-width="5.0" stroke-linecap="round" stroke-linejoin="round" filter="url(#b1_5)"/>
<path d="M613.4,102.8 C612.55,102.63 610.15,102.63 608.3,101.8 C606.45,100.97 604.65,99.02 602.3,97.8 C599.95,96.58 596.9,94.93 594.2,94.5 C591.5,94.07 588.18,94.42 586.1,95.2 C584.02,95.98 582.3,97.53 581.7,99.2 C581.1,100.87 581.25,103.02 582.5,105.2 C583.75,107.38 587.08,110.12 589.2,112.3 C591.32,114.48 594.03,116.27 595.2,118.3 C596.37,120.33 596.03,123.47 596.2,124.5" fill="none" stroke="#40b470" stroke-width="3.0" stroke-linecap="round" stroke-linejoin="round" filter="url(#b0_5)"/>
<path d="M613.4,102.8 C612.55,102.63 610.15,102.63 608.3,101.8 C606.45,100.97 604.65,99.02 602.3,97.8 C599.95,96.58 596.9,94.93 594.2,94.5 C591.5,94.07 588.18,94.42 586.1,95.2 C584.02,95.98 582.3,97.53 581.7,99.2 C581.1,100.87 581.25,103.02 582.5,105.2 C583.75,107.38 587.08,110.12 589.2,112.3 C591.32,114.48 594.03,116.27 595.2,118.3 C596.37,120.33 596.03,123.47 596.2,124.5" fill="none" stroke="#e0c840" stroke-width="1.9" stroke-linecap="round" stroke-linejoin="round" filter="url(#b0_4)"/>
<path d="M613.4,102.8 C612.55,102.63 610.15,102.63 608.3,101.8 C606.45,100.97 604.65,99.02 602.3,97.8 C599.95,96.58 596.9,94.93 594.2,94.5 C591.5,94.07 588.18,94.42 586.1,95.2 C584.02,95.98 582.3,97.53 581.7,99.2 C581.1,100.87 581.25,103.02 582.5,105.2 C583.75,107.38 587.08,110.12 589.2,112.3 C591.32,114.48 594.03,116.27 595.2,118.3 C596.37,120.33 596.03,123.47 596.2,124.5" fill="none" stroke="#f0a040" stroke-width="0.8" stroke-linecap="round" stroke-linejoin="round" filter="url(#b0_3)"/>
<path d="M624.5,88.1 C624.57,90.45 624.73,97.5 624.9,102.2 C625.07,106.9 624.73,112.43 625.5,116.3 C626.27,120.17 627.32,123.12 629.5,125.4 C631.68,127.68 635.75,129.67 638.6,130 C641.45,130.33 644.42,129.35 646.6,127.4 C648.78,125.45 650.52,121.48 651.7,118.3 C652.88,115.12 653.27,111.32 653.7,108.3 C654.13,105.28 654.2,101.55 654.3,100.2" fill="none" stroke="#1a78d8" stroke-width="6.5" stroke-linecap="round" stroke-linejoin="round" filter="url(#b1_5)"/>
<path d="M624.5,88.1 C624.57,90.45 624.73,97.5 624.9,102.2 C625.07,106.9 624.73,112.43 625.5,116.3 C626.27,120.17 627.32,123.12 629.5,125.4 C631.68,127.68 635.75,129.67 638.6,130 C641.45,130.33 644.42,129.35 646.6,127.4 C648.78,125.45 650.52,121.48 651.7,118.3 C652.88,115.12 653.27,111.32 653.7,108.3 C654.13,105.28 654.2,101.55 654.3,100.2" fill="none" stroke="#48b868" stroke-width="4.2" stroke-linecap="round" stroke-linejoin="round" filter="url(#b0_5)"/>
<path d="M624.5,88.1 C624.57,90.45 624.73,97.5 624.9,102.2 C625.07,106.9 624.73,112.43 625.5,116.3 C626.27,120.17 627.32,123.12 629.5,125.4 C631.68,127.68 635.75,129.67 638.6,130 C641.45,130.33 644.42,129.35 646.6,127.4 C648.78,125.45 650.52,121.48 651.7,118.3 C652.88,115.12 653.27,111.32 653.7,108.3 C654.13,105.28 654.2,101.55 654.3,100.2" fill="none" stroke="#ecd040" stroke-width="2.9" stroke-linecap="round" stroke-linejoin="round" filter="url(#b0_4)"/>
<path d="M624.5,88.1 C624.57,90.45 624.73,97.5 624.9,102.2 C625.07,106.9 624.73,112.43 625.5,116.3 C626.27,120.17 627.32,123.12 629.5,125.4 C631.68,127.68 635.75,129.67 638.6,130 C641.45,130.33 644.42,129.35 646.6,127.4 C648.78,125.45 650.52,121.48 651.7,118.3 C652.88,115.12 653.27,111.32 653.7,108.3 C654.13,105.28 654.2,101.55 654.3,100.2" fill="none" stroke="#f4b050" stroke-width="1.1" stroke-linecap="round" stroke-linejoin="round" filter="url(#b0_3)"/>
<path d="M624.6,89 L624.9,107" stroke="#f04020" stroke-width="2.0" stroke-linecap="round" filter="url(#b0_8)"/>
<ellipse cx="624.6" cy="91" rx="0.9" ry="1.8" fill="#fff8f0" filter="url(#b0_4)"/>
<ellipse cx="609.5" cy="101.8" rx="2.8" ry="1.5" fill="#f05030" filter="url(#b0_8)"/>
<ellipse cx="609.2" cy="101.7" rx="1.5" ry="0.9" fill="#fff" filter="url(#b0_4)"/>
<ellipse cx="654.2" cy="102" rx="1.0" ry="1.8" fill="#f06030" filter="url(#b0_4)"/>
<ellipse cx="583" cy="98" rx="1.2" ry="1.2" fill="#f07030" filter="url(#b0_4)"/>
</g>
<text x="574.9" y="92" font-size="11.6" text-anchor="start" font-weight="bold" fill="#fff" >8 V</text>
<rect x="667.9" y="20.1" width="5" height="117.3" fill="url(#cbar)"/>
<text x="672" y="17.2" font-size="9.6" text-anchor="middle" font-weight="bold" fill="#000" >100</text>
<text x="670" y="146.4" font-size="9.4" text-anchor="middle" font-weight="bold" fill="#000" >25</text>
<text transform="translate(683,77) rotate(-90)" font-size="9.6" text-anchor="middle" font-weight="bold" fill="#000">Temperature (&#186;C)</text>
<text x="0" y="196" font-size="20" text-anchor="start" font-weight="bold" fill="#000" >d</text>
<path d="M36.2,328.3 C36.25,325.25 36.37,316.05 36.5,310 C36.63,303.95 36.77,297 37,292 C37.23,287 37.53,283.67 37.9,280 C38.27,276.33 38.68,273.17 39.2,270 C39.72,266.83 40.28,263.83 41,261 C41.72,258.17 42.58,255.42 43.5,253 C44.42,250.58 45.5,248.33 46.5,246.5 C47.5,244.67 48.58,243.33 49.5,242 C50.42,240.67 51.37,239.63 52,238.5 C52.63,237.37 53.08,235.75 53.3,235.2 C53.35,237.67 53.47,244.2 53.6,250 C53.73,255.8 53.92,264.67 54.1,270 C54.28,275.33 54.42,278.33 54.7,282 C54.98,285.67 55.2,288.58 55.8,292 C56.4,295.42 57,298.67 58.3,302.5 C59.6,306.33 61.83,311.62 63.6,315 C65.37,318.38 67.33,320.75 68.9,322.8 C70.47,324.85 72.32,326.55 73,327.3" fill="none" stroke="#111" stroke-width="1.1" stroke-linejoin="round" stroke-linecap="round" />
<path d="M73,327.3 C73.07,323.58 73.23,312.05 73.4,305 C73.57,297.95 73.77,291.17 74,285 C74.23,278.83 74.47,272.33 74.8,268 C75.13,263.67 75.47,261.67 76,259 C76.53,256.33 77.17,254.33 78,252 C78.83,249.67 80,247.08 81,245 C82,242.92 83,241 84,239.5 C85,238 86.12,237.03 87,236 C87.88,234.97 88.92,233.75 89.3,233.3 C89.35,236.08 89.47,243.88 89.6,250 C89.73,256.12 89.87,264.5 90.1,270 C90.33,275.5 90.6,279.08 91,283 C91.4,286.92 91.45,289.08 92.5,293.5 C93.55,297.92 95.33,305 97.3,309.5 C99.27,314 102.13,317.68 104.3,320.5 C106.47,323.32 109.3,325.42 110.3,326.4" fill="none" stroke="#f01818" stroke-width="1.1" stroke-linejoin="round" stroke-linecap="round" />
<path d="M110.3,326.4 C110.37,322.83 110.55,311.9 110.7,305 C110.85,298.1 110.98,291.17 111.2,285 C111.42,278.83 111.63,272.67 112,268 C112.37,263.33 112.82,260 113.4,257 C113.98,254 114.65,252.17 115.5,250 C116.35,247.83 117.33,245.83 118.5,244 C119.67,242.17 121.25,240.42 122.5,239 C123.75,237.58 125.03,236.38 126,235.5 C126.97,234.62 127.92,234 128.3,233.7 C128.35,236.42 128.47,243.95 128.6,250 C128.73,256.05 128.87,264.5 129.1,270 C129.33,275.5 129.53,278.75 130,283 C130.47,287.25 131,291.33 131.9,295.5 C132.8,299.67 133.93,304.25 135.4,308 C136.87,311.75 138.78,315.3 140.7,318 C142.62,320.7 145.87,323.17 146.9,324.2" fill="none" stroke="#3cac3c" stroke-width="1.1" stroke-linejoin="round" stroke-linecap="round" />
<path d="M146.9,324.4 C146.97,320.33 147.13,307.4 147.3,300 C147.47,292.6 147.68,285.67 147.9,280 C148.12,274.33 148.25,270.17 148.6,266 C148.95,261.83 149.43,258.17 150,255 C150.57,251.83 151.25,249.33 152,247 C152.75,244.67 153.58,242.67 154.5,241 C155.42,239.33 156.5,238.25 157.5,237 C158.5,235.75 159.55,234.7 160.5,233.5 C161.45,232.3 162.75,230.42 163.2,229.8 C163.25,233.17 163.37,243.3 163.5,250 C163.63,256.7 163.75,264.33 164,270 C164.25,275.67 164.53,279.67 165,284 C165.47,288.33 165.83,291.75 166.8,296 C167.77,300.25 169.25,305.58 170.8,309.5 C172.35,313.42 174.32,316.97 176.1,319.5 C177.88,322.03 180.6,323.83 181.5,324.7" fill="none" stroke="#1c1cf0" stroke-width="1.1" stroke-linejoin="round" stroke-linecap="round" />
<path d="M181.5,324.7 C181.57,320.58 181.73,306.95 181.9,300 C182.07,293.05 182.25,288 182.5,283 C182.75,278 183.02,273.83 183.4,270 C183.78,266.17 184.23,263 184.8,260 C185.37,257 186.05,254.25 186.8,252 C187.55,249.75 188.47,248 189.3,246.5 C190.13,245 191.1,244.17 191.8,243 C192.5,241.83 192.88,240.67 193.5,239.5 C194.12,238.33 194.8,237.05 195.5,236 C196.2,234.95 197.33,233.67 197.7,233.2 C197.75,236 197.87,244.2 198,250 C198.13,255.8 198.27,262.5 198.5,268 C198.73,273.5 199.05,278.67 199.4,283 C199.75,287.33 200.07,290.5 200.6,294 C201.13,297.5 201.42,300.5 202.6,304 C203.78,307.5 205.95,312.07 207.7,315 C209.45,317.93 211.4,319.72 213.1,321.6 C214.8,323.48 217.1,325.52 217.9,326.3" fill="none" stroke="#ff8a1c" stroke-width="1.1" stroke-linejoin="round" stroke-linecap="round" />
<g clip-path="url(#dt0)">
<rect x="37.7" y="193" width="34.1" height="19.4" fill="#050e62"/>
<path d="M39.9,202.8 C40.73,202.98 42.77,203.53 44.9,203.9 C47.03,204.27 50.12,204.95 52.7,205 C55.28,205.05 57.63,204.48 60.4,204.2 C63.17,203.92 67.82,203.45 69.3,203.3" fill="none" stroke="#0c34a0" stroke-width="5" stroke-linecap="round" stroke-linejoin="round" filter="url(#b2_5)"/>
<path d="M39.9,202.8 C40.73,202.98 42.77,203.53 44.9,203.9 C47.03,204.27 50.12,204.95 52.7,205 C55.28,205.05 57.63,204.48 60.4,204.2 C63.17,203.92 67.82,203.45 69.3,203.3" fill="none" stroke="#1c68c0" stroke-width="3.0" stroke-linecap="round" stroke-linejoin="round" filter="url(#b1_0)"/>
<path d="M39.9,202.8 C40.73,202.98 42.77,203.53 44.9,203.9 C47.03,204.27 50.12,204.95 52.7,205 C55.28,205.05 57.63,204.48 60.4,204.2 C63.17,203.92 67.82,203.45 69.3,203.3" fill="none" stroke="#38a0a0" stroke-width="1.9" stroke-linecap="round" stroke-linejoin="round" filter="url(#b0_5)"/>
<path d="M39.9,202.8 C40.73,202.98 42.77,203.53 44.9,203.9 C47.03,204.27 50.12,204.95 52.7,205 C55.28,205.05 57.63,204.48 60.4,204.2 C63.17,203.92 67.82,203.45 69.3,203.3" fill="none" stroke="#d8c460" stroke-width="1.15" stroke-linecap="round" stroke-linejoin="round" filter="url(#b0_35)"/>
<path d="M39.9,202.8 C40.73,202.98 42.77,203.53 44.9,203.9 C47.03,204.27 50.12,204.95 52.7,205 C55.28,205.05 57.63,204.48 60.4,204.2 C63.17,203.92 67.82,203.45 69.3,203.3" fill="none" stroke="#f0b868" stroke-width="0.5" stroke-linecap="round" stroke-linejoin="round" filter="url(#b0_3)"/>
<ellipse cx="40.7" cy="202.5" rx="1.4" ry="1.0" fill="#f8e8c0" filter="url(#b0_4)"/>
</g>
<g clip-path="url(#dt1)">
<rect x="73.6" y="193" width="34.4" height="19.4" fill="#050e62"/>
<path d="M77.1,205.6 C77.65,205.13 79.1,203.55 80.4,202.8 C81.7,202.05 83.23,201.52 84.9,201.1 C86.57,200.68 88.55,200.2 90.4,200.3 C92.25,200.4 94.13,201.02 96,201.7 C97.87,202.38 100.03,203.48 101.6,204.4 C103.17,205.32 104.77,206.73 105.4,207.2" fill="none" stroke="#0c34a0" stroke-width="5" stroke-linecap="round" stroke-linejoin="round" filter="url(#b2_5)"/>
<path d="M77.1,205.6 C77.65,205.13 79.1,203.55 80.4,202.8 C81.7,202.05 83.23,201.52 84.9,201.1 C86.57,200.68 88.55,200.2 90.4,200.3 C92.25,200.4 94.13,201.02 96,201.7 C97.87,202.38 100.03,203.48 101.6,204.4 C103.17,205.32 104.77,206.73 105.4,207.2" fill="none" stroke="#1c68c0" stroke-width="3.0" stroke-linecap="round" stroke-linejoin="round" filter="url(#b1_0)"/>
<path d="M77.1,205.6 C77.65,205.13 79.1,203.55 80.4,202.8 C81.7,202.05 83.23,201.52 84.9,201.1 C86.57,200.68 88.55,200.2 90.4,200.3 C92.25,200.4 94.13,201.02 96,201.7 C97.87,202.38 100.03,203.48 101.6,204.4 C103.17,205.32 104.77,206.73 105.4,207.2" fill="none" stroke="#38a0a0" stroke-width="1.9" stroke-linecap="round" stroke-linejoin="round" filter="url(#b0_5)"/>
<path d="M77.1,205.6 C77.65,205.13 79.1,203.55 80.4,202.8 C81.7,202.05 83.23,201.52 84.9,201.1 C86.57,200.68 88.55,200.2 90.4,200.3 C92.25,200.4 94.13,201.02 96,201.7 C97.87,202.38 100.03,203.48 101.6,204.4 C103.17,205.32 104.77,206.73 105.4,207.2" fill="none" stroke="#d8c460" stroke-width="1.15" stroke-linecap="round" stroke-linejoin="round" filter="url(#b0_35)"/>
<path d="M77.1,205.6 C77.65,205.13 79.1,203.55 80.4,202.8 C81.7,202.05 83.23,201.52 84.9,201.1 C86.57,200.68 88.55,200.2 90.4,200.3 C92.25,200.4 94.13,201.02 96,201.7 C97.87,202.38 100.03,203.48 101.6,204.4 C103.17,205.32 104.77,206.73 105.4,207.2" fill="none" stroke="#f0b868" stroke-width="0.5" stroke-linecap="round" stroke-linejoin="round" filter="url(#b0_3)"/>
<ellipse cx="77.9" cy="205.3" rx="1.4" ry="1.0" fill="#f8e8c0" filter="url(#b0_4)"/>
</g>
<g clip-path="url(#dt2)">
<rect x="110.5" y="193" width="35.1" height="19.4" fill="#050e62"/>
<path d="M115.4,207.2 C116.07,206.23 117.63,203.03 119.4,201.4 C121.17,199.77 123.82,197.8 126,197.4 C128.18,197 130.32,197.5 132.5,199 C134.68,200.5 138,205.17 139.1,206.4" fill="none" stroke="#0c34a0" stroke-width="5" stroke-linecap="round" stroke-linejoin="round" filter="url(#b2_5)"/>
<path d="M115.4,207.2 C116.07,206.23 117.63,203.03 119.4,201.4 C121.17,199.77 123.82,197.8 126,197.4 C128.18,197 130.32,197.5 132.5,199 C134.68,200.5 138,205.17 139.1,206.4" fill="none" stroke="#1c68c0" stroke-width="3.0" stroke-linecap="round" stroke-linejoin="round" filter="url(#b1_0)"/>
<path d="M115.4,207.2 C116.07,206.23 117.63,203.03 119.4,201.4 C121.17,199.77 123.82,197.8 126,197.4 C128.18,197 130.32,197.5 132.5,199 C134.68,200.5 138,205.17 139.1,206.4" fill="none" stroke="#38a0a0" stroke-width="1.9" stroke-linecap="round" stroke-linejoin="round" filter="url(#b0_5)"/>
<path d="M115.4,207.2 C116.07,206.23 117.63,203.03 119.4,201.4 C121.17,199.77 123.82,197.8 126,197.4 C128.18,197 130.32,197.5 132.5,199 C134.68,200.5 138,205.17 139.1,206.4" fill="none" stroke="#d8c460" stroke-width="1.15" stroke-linecap="round" stroke-linejoin="round" filter="url(#b0_35)"/>
<path d="M115.4,207.2 C116.07,206.23 117.63,203.03 119.4,201.4 C121.17,199.77 123.82,197.8 126,197.4 C128.18,197 130.32,197.5 132.5,199 C134.68,200.5 138,205.17 139.1,206.4" fill="none" stroke="#f0b868" stroke-width="0.5" stroke-linecap="round" stroke-linejoin="round" filter="url(#b0_3)"/>
</g>
<g clip-path="url(#dt3)">
<rect x="146.9" y="193" width="34.1" height="19.4" fill="#050e62"/>
<path d="M157.9,207.5 C157.9,206.63 157.5,203.85 157.9,202.3 C158.3,200.75 159.22,199.17 160.3,198.2 C161.38,197.23 163.03,196.5 164.4,196.5 C165.77,196.5 167.27,197.1 168.5,198.2 C169.73,199.3 171.12,201.52 171.8,203.1 C172.48,204.68 172.47,206.93 172.6,207.7" fill="none" stroke="#0c34a0" stroke-width="5" stroke-linecap="round" stroke-linejoin="round" filter="url(#b2_5)"/>
<path d="M157.9,207.5 C157.9,206.63 157.5,203.85 157.9,202.3 C158.3,200.75 159.22,199.17 160.3,198.2 C161.38,197.23 163.03,196.5 164.4,196.5 C165.77,196.5 167.27,197.1 168.5,198.2 C169.73,199.3 171.12,201.52 171.8,203.1 C172.48,204.68 172.47,206.93 172.6,207.7" fill="none" stroke="#1c68c0" stroke-width="3.0" stroke-linecap="round" stroke-linejoin="round" filter="url(#b1_0)"/>
<path d="M157.9,207.5 C157.9,206.63 157.5,203.85 157.9,202.3 C158.3,200.75 159.22,199.17 160.3,198.2 C161.38,197.23 163.03,196.5 164.4,196.5 C165.77,196.5 167.27,197.1 168.5,198.2 C169.73,199.3 171.12,201.52 171.8,203.1 C172.48,204.68 172.47,206.93 172.6,207.7" fill="none" stroke="#38a0a0" stroke-width="1.9" stroke-linecap="round" stroke-linejoin="round" filter="url(#b0_5)"/>
<path d="M157.9,207.5 C157.9,206.63 157.5,203.85 157.9,202.3 C158.3,200.75 159.22,199.17 160.3,198.2 C161.38,197.23 163.03,196.5 164.4,196.5 C165.77,196.5 167.27,197.1 168.5,198.2 C169.73,199.3 171.12,201.52 171.8,203.1 C172.48,204.68 172.47,206.93 172.6,207.7" fill="none" stroke="#d8c460" stroke-width="1.15" stroke-linecap="round" stroke-linejoin="round" filter="url(#b0_35)"/>
<path d="M157.9,207.5 C157.9,206.63 157.5,203.85 157.9,202.3 C158.3,200.75 159.22,199.17 160.3,198.2 C161.38,197.23 163.03,196.5 164.4,196.5 C165.77,196.5 167.27,197.1 168.5,198.2 C169.73,199.3 171.12,201.52 171.8,203.1 C172.48,204.68 172.47,206.93 172.6,207.7" fill="none" stroke="#f0b868" stroke-width="0.5" stroke-linecap="round" stroke-linejoin="round" filter="url(#b0_3)"/>
</g>
<g clip-path="url(#dt4)">
<rect x="182.8" y="193" width="34.5" height="19.4" fill="#050e62"/>
<path d="M196.5,210.2 C196.37,209.02 195.57,204.97 195.7,203.1 C195.83,201.23 196.48,199.95 197.3,199 C198.12,198.05 199.5,197.4 200.6,197.4 C201.7,197.4 203.08,197.92 203.9,199 C204.72,200.08 205.37,202.15 205.5,203.9 C205.63,205.65 204.83,208.57 204.7,209.5" fill="none" stroke="#0c34a0" stroke-width="5" stroke-linecap="round" stroke-linejoin="round" filter="url(#b2_5)"/>
<path d="M196.5,210.2 C196.37,209.02 195.57,204.97 195.7,203.1 C195.83,201.23 196.48,199.95 197.3,199 C198.12,198.05 199.5,197.4 200.6,197.4 C201.7,197.4 203.08,197.92 203.9,199 C204.72,200.08 205.37,202.15 205.5,203.9 C205.63,205.65 204.83,208.57 204.7,209.5" fill="none" stroke="#1c68c0" stroke-width="3.0" stroke-linecap="round" stroke-linejoin="round" filter="url(#b1_0)"/>
<path d="M196.5,210.2 C196.37,209.02 195.57,204.97 195.7,203.1 C195.83,201.23 196.48,199.95 197.3,199 C198.12,198.05 199.5,197.4 200.6,197.4 C201.7,197.4 203.08,197.92 203.9,199 C204.72,200.08 205.37,202.15 205.5,203.9 C205.63,205.65 204.83,208.57 204.7,209.5" fill="none" stroke="#38a0a0" stroke-width="1.9" stroke-linecap="round" stroke-linejoin="round" filter="url(#b0_5)"/>
<path d="M196.5,210.2 C196.37,209.02 195.57,204.97 195.7,203.1 C195.83,201.23 196.48,199.95 197.3,199 C198.12,198.05 199.5,197.4 200.6,197.4 C201.7,197.4 203.08,197.92 203.9,199 C204.72,200.08 205.37,202.15 205.5,203.9 C205.63,205.65 204.83,208.57 204.7,209.5" fill="none" stroke="#d8c460" stroke-width="1.15" stroke-linecap="round" stroke-linejoin="round" filter="url(#b0_35)"/>
<path d="M196.5,210.2 C196.37,209.02 195.57,204.97 195.7,203.1 C195.83,201.23 196.48,199.95 197.3,199 C198.12,198.05 199.5,197.4 200.6,197.4 C201.7,197.4 203.08,197.92 203.9,199 C204.72,200.08 205.37,202.15 205.5,203.9 C205.63,205.65 204.83,208.57 204.7,209.5" fill="none" stroke="#f0b868" stroke-width="0.5" stroke-linecap="round" stroke-linejoin="round" filter="url(#b0_3)"/>
</g>
<rect x="62.2" y="216.1" width="127.8" height="3.1" fill="url(#hbar)"/>
<text x="51" y="221.6" font-size="8.8" text-anchor="middle" font-weight="bold" fill="#000" >27.0</text>
<text x="201.3" y="221.9" font-size="8.8" text-anchor="middle" font-weight="bold" fill="#000" >60.0</text>
<text x="125.5" y="227.6" font-size="8.7" text-anchor="middle" font-weight="bold" fill="#000" >Temperature (&#186;C)</text>
<rect x="33.9" y="190.1" width="185.5" height="149.1" fill="none" stroke="#3a3a3a" stroke-width="1.1"/>
<line x1="36.4" y1="339.2" x2="36.4" y2="336.2" stroke="#3a3a3a" stroke-width="1.1"/>
<line x1="69.95" y1="339.2" x2="69.95" y2="336.2" stroke="#3a3a3a" stroke-width="1.1"/>
<line x1="103.5" y1="339.2" x2="103.5" y2="336.2" stroke="#3a3a3a" stroke-width="1.1"/>
<line x1="137.05" y1="339.2" x2="137.05" y2="336.2" stroke="#3a3a3a" stroke-width="1.1"/>
<line x1="170.6" y1="339.2" x2="170.6" y2="336.2" stroke="#3a3a3a" stroke-width="1.1"/>
<line x1="204.15" y1="339.2" x2="204.15" y2="336.2" stroke="#3a3a3a" stroke-width="1.1"/>
<line x1="53.17" y1="339.2" x2="53.17" y2="337.5" stroke="#3a3a3a" stroke-width="1.1"/>
<line x1="86.72" y1="339.2" x2="86.72" y2="337.5" stroke="#3a3a3a" stroke-width="1.1"/>
<line x1="120.28" y1="339.2" x2="120.28" y2="337.5" stroke="#3a3a3a" stroke-width="1.1"/>
<line x1="153.83" y1="339.2" x2="153.83" y2="337.5" stroke="#3a3a3a" stroke-width="1.1"/>
<line x1="187.38" y1="339.2" x2="187.38" y2="337.5" stroke="#3a3a3a" stroke-width="1.1"/>
<line x1="220.93" y1="339.2" x2="220.93" y2="337.5" stroke="#3a3a3a" stroke-width="1.1"/>
<text x="36.4" y="350" font-size="9.8" text-anchor="middle" font-weight="bold" fill="#000" >0</text>
<text x="69.95" y="350" font-size="9.8" text-anchor="middle" font-weight="bold" fill="#000" >500</text>
<text x="103.5" y="350" font-size="9.8" text-anchor="middle" font-weight="bold" fill="#000" >1000</text>
<text x="137.05" y="350" font-size="9.8" text-anchor="middle" font-weight="bold" fill="#000" >1500</text>
<text x="170.6" y="350" font-size="9.8" text-anchor="middle" font-weight="bold" fill="#000" >2000</text>
<text x="204.15" y="350" font-size="9.8" text-anchor="middle" font-weight="bold" fill="#000" >2500</text>
<line x1="33.9" y1="328.53" x2="36.9" y2="328.53" stroke="#3a3a3a" stroke-width="1.1"/>
<line x1="33.9" y1="307.19" x2="36.9" y2="307.19" stroke="#3a3a3a" stroke-width="1.1"/>
<line x1="33.9" y1="285.85" x2="36.9" y2="285.85" stroke="#3a3a3a" stroke-width="1.1"/>
<line x1="33.9" y1="264.51" x2="36.9" y2="264.51" stroke="#3a3a3a" stroke-width="1.1"/>
<line x1="33.9" y1="243.17" x2="36.9" y2="243.17" stroke="#3a3a3a" stroke-width="1.1"/>
<line x1="33.9" y1="221.83" x2="36.9" y2="221.83" stroke="#3a3a3a" stroke-width="1.1"/>
<line x1="33.9" y1="200.49" x2="36.9" y2="200.49" stroke="#3a3a3a" stroke-width="1.1"/>
<line x1="33.9" y1="317.86" x2="35.6" y2="317.86" stroke="#3a3a3a" stroke-width="1.1"/>
<line x1="33.9" y1="296.52" x2="35.6" y2="296.52" stroke="#3a3a3a" stroke-width="1.1"/>
<line x1="33.9" y1="275.18" x2="35.6" y2="275.18" stroke="#3a3a3a" stroke-width="1.1"/>
<line x1="33.9" y1="253.84" x2="35.6" y2="253.84" stroke="#3a3a3a" stroke-width="1.1"/>
<line x1="33.9" y1="232.5" x2="35.6" y2="232.5" stroke="#3a3a3a" stroke-width="1.1"/>
<line x1="33.9" y1="211.16" x2="35.6" y2="211.16" stroke="#3a3a3a" stroke-width="1.1"/>
<line x1="33.9" y1="189.82" x2="35.6" y2="189.82" stroke="#3a3a3a" stroke-width="1.1"/>
<text x="30.4" y="332.03" font-size="9.8" text-anchor="end" font-weight="bold" fill="#000" >30</text>
<text x="30.4" y="310.69" font-size="9.8" text-anchor="end" font-weight="bold" fill="#000" >40</text>
<text x="30.4" y="289.35" font-size="9.8" text-anchor="end" font-weight="bold" fill="#000" >50</text>
<text x="30.4" y="268.01" font-size="9.8" text-anchor="end" font-weight="bold" fill="#000" >60</text>
<text x="30.4" y="246.67" font-size="9.8" text-anchor="end" font-weight="bold" fill="#000" >70</text>
<text x="30.4" y="225.33" font-size="9.8" text-anchor="end" font-weight="bold" fill="#000" >80</text>
<text x="30.4" y="203.99" font-size="9.8" text-anchor="end" font-weight="bold" fill="#000" >90</text>
<text x="127.3" y="364.6" font-size="11.6" text-anchor="middle" font-weight="bold" fill="#000" >Time (s)</text>
<text transform="translate(9.2,266.6) rotate(-90)" font-size="11.9" text-anchor="middle" font-weight="bold" fill="#000">Temperature (&#186;C)</text>
<text x="53.4" y="333.2" font-size="9.8" text-anchor="middle" font-weight="bold" fill="#000" >0 &#186;</text>
<text x="90.2" y="333.2" font-size="9.8" text-anchor="middle" font-weight="bold" fill="#000" >45 &#186;</text>
<text x="127" y="333.2" font-size="9.8" text-anchor="middle" font-weight="bold" fill="#000" >90 &#186;</text>
<text x="162.9" y="333.2" font-size="9.8" text-anchor="middle" font-weight="bold" fill="#000" >135 &#186;</text>
<text x="201" y="333.2" font-size="9.8" text-anchor="middle" font-weight="bold" fill="#000" >180 &#186;</text>
<text x="234.2" y="199.2" font-size="20" text-anchor="start" font-weight="bold" fill="#000" >e</text>
<path d="M285.8,203.5 L328,203.5 L364.3,203.3 L402.1,203.2 L441.1,203.2" stroke="#222" stroke-width="1.1" fill="none"/>
<circle cx="285.8" cy="203.5" r="2.4" fill="#ff8a0a"/>
<circle cx="285.4" cy="203" r="0.8" fill="#ffd090"/>
<circle cx="328" cy="203.5" r="2.4" fill="#ff8a0a"/>
<circle cx="327.6" cy="203" r="0.8" fill="#ffd090"/>
<circle cx="364.3" cy="203.3" r="2.4" fill="#ff8a0a"/>
<circle cx="363.9" cy="202.8" r="0.8" fill="#ffd090"/>
<circle cx="402.1" cy="203.2" r="2.4" fill="#ff8a0a"/>
<circle cx="401.7" cy="202.7" r="0.8" fill="#ffd090"/>
<circle cx="441.1" cy="203.2" r="2.4" fill="#ff8a0a"/>
<circle cx="440.7" cy="202.7" r="0.8" fill="#ffd090"/>
<path d="M301.1,238.3 L319.9,238.3" stroke="#3cbcf6" stroke-width="1.3" fill="none"/>
<path d="M306,237.6 C302,236 301.3,232 301.6,228 C302,222 305.5,219.4 310.5,219.4 C315.5,219.4 319.3,222.5 319.4,228.5 C319.5,234 316.5,237.6 312,237.8 C309,238 307.5,238 306,237.6 Z" stroke="#3cbcf6" stroke-width="1.2" fill="none"/>
<text x="349.2" y="224.8" font-size="9.6" text-anchor="start" font-weight="bold" fill="#000" >Knot</text>
<path d="M349.4,229.8 L366.5,229.8" stroke="#000" stroke-width="1.6"/>
<path d="M365,226.9 L371.3,229.8 L365,232.7 Z" fill="#000"/>
<path d="M379.4,230.0 C385,230.7 392,230.9 400,230.7 C404,230.6 407,230.6 410,230.5 C420,230.7 430,230.3 438.7,229.9" stroke="#3cbcf6" stroke-width="1.2" fill="none"/>
<ellipse cx="409.9" cy="229.5" rx="2.3" ry="1.1" stroke="#3cbcf6" stroke-width="1.0" fill="none"/>
<rect x="274.9" y="259.3" width="57.7" height="23" fill="url(#pg0)"/>
<text x="323.2" y="277.6" font-size="8.2" text-anchor="middle" font-weight="bold" fill="#fff" >1 cm</text>
<rect x="323" y="278.9" width="7" height="1.8" fill="#fff"/>
<rect x="334.3" y="259.3" width="57.6" height="23" fill="url(#pg1)"/>
<text x="382.5" y="277.6" font-size="8.2" text-anchor="middle" font-weight="bold" fill="#fff" >1 cm</text>
<rect x="382.3" y="278.9" width="7" height="1.8" fill="#fff"/>
<rect x="394.1" y="259.3" width="57.7" height="23" fill="url(#pg2)"/>
<text x="442.4" y="277.6" font-size="8.2" text-anchor="middle" font-weight="bold" fill="#fff" >1 cm</text>
<rect x="442.2" y="278.9" width="7" height="1.8" fill="#fff"/>
<ellipse cx="418" cy="266" rx="16" ry="7" fill="#ecd838" filter="url(#b4)" opacity="0.8"/>
<circle cx="302.9" cy="268.3" r="6.5" fill="none" stroke="#b09a20" stroke-width="0.6"/>
<path d="M286,277.2 L318,277.0" stroke="#b09a20" stroke-width="0.6" fill="none"/>
<path d="M338,270 C345,271 352,272 358,272 M358,272 C357,268 362,265 365,268 C367,271 364,273 360,273 L372,272 C378,271 384,268 389,266" stroke="#b8a020" stroke-width="0.6" fill="none"/>
<path d="M398,276 C410,276.5 420,276 432,275" stroke="#b8a020" stroke-width="0.6" fill="none"/>
<g clip-path="url(#et0)">
<rect x="274.9" y="284.0" width="57.7" height="32.3" fill="#060c62"/>
<path d="M295.5,303.6 L301.2,303.6 C299.6,301.5 299.3,299 299.7,296.5 C300.3,294 302,292.8 304.6,292.8 C307.2,292.8 309,294 309.5,296.5 C310,299 309.6,301.5 308,303.6 L313,303.6" fill="none" stroke="#1450c8" stroke-width="8" stroke-linejoin="round" filter="url(#b2_5)"/>
<path d="M295.5,303.6 L301.2,303.6 C299.6,301.5 299.3,299 299.7,296.5 C300.3,294 302,292.8 304.6,292.8 C307.2,292.8 309,294 309.5,296.5 C310,299 309.6,301.5 308,303.6 L313,303.6" fill="none" stroke="#28a8c0" stroke-width="4.2" stroke-linejoin="round" filter="url(#b0_8)"/>
<path d="M295.5,303.6 L301.2,303.6 C299.6,301.5 299.3,299 299.7,296.5 C300.3,294 302,292.8 304.6,292.8 C307.2,292.8 309,294 309.5,296.5 C310,299 309.6,301.5 308,303.6 L313,303.6" fill="none" stroke="#b8d040" stroke-width="2.8" stroke-linejoin="round" filter="url(#b0_4)"/>
<path d="M301.2,303.2 C299.6,301.5 299.3,299 299.7,296.5 C300.3,294 302,292.8 304.6,292.8 C307.2,292.8 309,294 309.5,296.5 C310,299 309.6,301.5 308,303.2" fill="none" stroke="#f05020" stroke-width="1.5" filter="url(#b0_4)"/>
<ellipse cx="304.6" cy="298.6" rx="2.4" ry="3.2" fill="#1890e0" filter="url(#b0_8)"/>
<path d="M296.5,303.7 L312.5,303.7" stroke="#f8f0a0" stroke-width="1.7" filter="url(#b0_4)"/>
<path d="M301,303.9 L307,303.9" stroke="#fff8f0" stroke-width="1.0" filter="url(#b0_4)"/>
</g>
<g clip-path="url(#et1)">
<rect x="334.3" y="284.0" width="57.6" height="32.3" fill="#060c62"/>
<path d="M348,300.7 C349.38,300.92 354.15,301.7 356.3,302 C358.45,302.3 359.05,302.5 360.9,302.5 C362.75,302.5 365.23,302.3 367.4,302 C369.57,301.7 372.12,301.23 373.9,300.7 C375.68,300.17 377.02,299.65 378.1,298.8 C379.18,297.95 380.02,296.13 380.4,295.6" fill="none" stroke="#1a50c8" stroke-width="7" stroke-linecap="round" stroke-linejoin="round" filter="url(#b2_5)"/>
<path d="M348,300.7 C349.38,300.92 354.15,301.7 356.3,302 C358.45,302.3 359.05,302.5 360.9,302.5 C362.75,302.5 365.23,302.3 367.4,302 C369.57,301.7 372.12,301.23 373.9,300.7 C375.68,300.17 377.02,299.65 378.1,298.8 C379.18,297.95 380.02,296.13 380.4,295.6" fill="none" stroke="#2aa0b8" stroke-width="3.0" stroke-linecap="round" stroke-linejoin="round" filter="url(#b0_8)"/>
<path d="M348,300.7 C349.38,300.92 354.15,301.7 356.3,302 C358.45,302.3 359.05,302.5 360.9,302.5 C362.75,302.5 365.23,302.3 367.4,302 C369.57,301.7 372.12,301.23 373.9,300.7 C375.68,300.17 377.02,299.65 378.1,298.8 C379.18,297.95 380.02,296.13 380.4,295.6" fill="none" stroke="#c8d050" stroke-width="1.7" stroke-linecap="round" stroke-linejoin="round" filter="url(#b0_4)"/>
<path d="M348,300.7 C349.38,300.92 354.15,301.7 356.3,302 C358.45,302.3 359.05,302.5 360.9,302.5 C362.75,302.5 365.23,302.3 367.4,302 C369.57,301.7 372.12,301.23 373.9,300.7 C375.68,300.17 377.02,299.65 378.1,298.8 C379.18,297.95 380.02,296.13 380.4,295.6" fill="none" stroke="#f0c060" stroke-width="0.8" stroke-linecap="round" stroke-linejoin="round" filter="url(#b0_3)"/>
<circle cx="360.5" cy="300.6" r="3.4" fill="#30b0a0" filter="url(#b0_8)"/>
<circle cx="360.5" cy="300.6" r="2.6" fill="#f0a030" filter="url(#b0_4)"/>
<circle cx="360.6" cy="300.2" r="1.4" fill="#c0c840" filter="url(#b0_4)"/>
</g>
<g clip-path="url(#et2)">
<rect x="394.1" y="284.0" width="57.7" height="32.3" fill="#060c62"/>
<path d="M396.7,300.4 C398.25,300.43 402.58,300.6 406,300.6 C409.42,300.6 414.4,300.6 417.2,300.4 C420,300.2 421.4,299.67 422.8,299.4 C424.2,299.13 423.73,299 425.6,298.8 C427.47,298.6 431.35,298.25 434,298.2 C436.65,298.15 439,298.53 441.5,298.5 C444,298.47 447.75,298.08 449,298" fill="none" stroke="#1a50c8" stroke-width="8" stroke-linecap="round" stroke-linejoin="round" filter="url(#b2_5)"/>
<path d="M396.7,300.4 C398.25,300.43 402.58,300.6 406,300.6 C409.42,300.6 414.4,300.6 417.2,300.4 C420,300.2 421.4,299.67 422.8,299.4 C424.2,299.13 423.73,299 425.6,298.8 C427.47,298.6 431.35,298.25 434,298.2 C436.65,298.15 439,298.53 441.5,298.5 C444,298.47 447.75,298.08 449,298" fill="none" stroke="#1c90d8" stroke-width="5" stroke-linecap="round" stroke-linejoin="round" filter="url(#b1_5)"/>
<path d="M396.7,300.4 C398.25,300.43 402.58,300.6 406,300.6 C409.42,300.6 414.4,300.6 417.2,300.4 C420,300.2 421.4,299.67 422.8,299.4 C424.2,299.13 423.73,299 425.6,298.8 C427.47,298.6 431.35,298.25 434,298.2 C436.65,298.15 439,298.53 441.5,298.5 C444,298.47 447.75,298.08 449,298" fill="none" stroke="#40b890" stroke-width="3.6" stroke-linecap="round" stroke-linejoin="round" filter="url(#b0_7)"/>
<path d="M396.7,300.4 C398.25,300.43 402.58,300.6 406,300.6 C409.42,300.6 414.4,300.6 417.2,300.4 C420,300.2 421.4,299.67 422.8,299.4 C424.2,299.13 423.73,299 425.6,298.8 C427.47,298.6 431.35,298.25 434,298.2 C436.65,298.15 439,298.53 441.5,298.5 C444,298.47 447.75,298.08 449,298" fill="none" stroke="#f0c838" stroke-width="2.4" stroke-linecap="round" stroke-linejoin="round" filter="url(#b0_4)"/>
<path d="M396.7,300.4 C398.25,300.43 402.58,300.6 406,300.6 C409.42,300.6 414.4,300.6 417.2,300.4 C420,300.2 421.4,299.67 422.8,299.4 C424.2,299.13 423.73,299 425.6,298.8 C427.47,298.6 431.35,298.25 434,298.2 C436.65,298.15 439,298.53 441.5,298.5 C444,298.47 447.75,298.08 449,298" fill="none" stroke="#f09040" stroke-width="1.1" stroke-linecap="round" stroke-linejoin="round" filter="url(#b0_4)"/>
<ellipse cx="423.5" cy="299.3" rx="2.5" ry="1.1" fill="#fff4e0" filter="url(#b0_4)"/>
</g>
<rect x="293.4" y="319.6" width="139.4" height="2.7" rx="1.3" fill="url(#hbar)"/>
<text x="282.6" y="324.8" font-size="8.7" text-anchor="middle" font-weight="bold" fill="#000" >27.0</text>
<text x="443.5" y="325.1" font-size="8.7" text-anchor="middle" font-weight="bold" fill="#000" >60.0</text>
<text x="363.2" y="331.1" font-size="8.7" text-anchor="middle" font-weight="bold" fill="#000" >Temperature (&#186;C)</text>
<path d="M270.6,190.1 L456,190.1 L456,338.7 L270.6,338.7 Z" fill="none" stroke="#3a3a3a" stroke-width="1.1"/>
<path d="M267.4,311.6 L273.8,308.6 L273.8,310.9 L267.4,313.9 Z" fill="#fff" stroke="none"/>
<path d="M267.4,311.6 L273.8,308.6 M267.4,313.9 L273.8,310.9" stroke="#333" stroke-width="0.9"/>
<path d="M452.8,311.6 L459.2,308.6 L459.2,310.9 L452.8,313.9 Z" fill="#fff" stroke="none"/>
<path d="M452.8,311.6 L459.2,308.6 M452.8,313.9 L459.2,310.9" stroke="#333" stroke-width="0.9"/>
<line x1="270.5" y1="338.7" x2="270.5" y2="335.7" stroke="#3a3a3a" stroke-width="1.1"/>
<line x1="306.3" y1="338.7" x2="306.3" y2="335.7" stroke="#3a3a3a" stroke-width="1.1"/>
<line x1="342.1" y1="338.7" x2="342.1" y2="335.7" stroke="#3a3a3a" stroke-width="1.1"/>
<line x1="377.9" y1="338.7" x2="377.9" y2="335.7" stroke="#3a3a3a" stroke-width="1.1"/>
<line x1="413.7" y1="338.7" x2="413.7" y2="335.7" stroke="#3a3a3a" stroke-width="1.1"/>
<line x1="449.5" y1="338.7" x2="449.5" y2="335.7" stroke="#3a3a3a" stroke-width="1.1"/>
<line x1="288.4" y1="338.7" x2="288.4" y2="337" stroke="#3a3a3a" stroke-width="1.1"/>
<line x1="324.2" y1="338.7" x2="324.2" y2="337" stroke="#3a3a3a" stroke-width="1.1"/>
<line x1="360" y1="338.7" x2="360" y2="337" stroke="#3a3a3a" stroke-width="1.1"/>
<line x1="395.8" y1="338.7" x2="395.8" y2="337" stroke="#3a3a3a" stroke-width="1.1"/>
<line x1="431.6" y1="338.7" x2="431.6" y2="337" stroke="#3a3a3a" stroke-width="1.1"/>
<text x="270.5" y="350.3" font-size="9.8" text-anchor="middle" font-weight="bold" fill="#000" >0</text>
<text x="306.3" y="350.3" font-size="9.8" text-anchor="middle" font-weight="bold" fill="#000" >5</text>
<text x="342.1" y="350.3" font-size="9.8" text-anchor="middle" font-weight="bold" fill="#000" >10</text>
<text x="377.9" y="350.3" font-size="9.8" text-anchor="middle" font-weight="bold" fill="#000" >15</text>
<text x="413.7" y="350.3" font-size="9.8" text-anchor="middle" font-weight="bold" fill="#000" >20</text>
<text x="449.5" y="350.3" font-size="9.8" text-anchor="middle" font-weight="bold" fill="#000" >25</text>
<line x1="270.6" y1="203.5" x2="273.6" y2="203.5" stroke="#3a3a3a" stroke-width="1.1"/>
<line x1="270.6" y1="230.05" x2="273.6" y2="230.05" stroke="#3a3a3a" stroke-width="1.1"/>
<line x1="270.6" y1="256.6" x2="273.6" y2="256.6" stroke="#3a3a3a" stroke-width="1.1"/>
<line x1="270.6" y1="283.15" x2="273.6" y2="283.15" stroke="#3a3a3a" stroke-width="1.1"/>
<line x1="270.6" y1="309.7" x2="273.6" y2="309.7" stroke="#3a3a3a" stroke-width="1.1"/>
<line x1="270.6" y1="338.5" x2="273.6" y2="338.5" stroke="#3a3a3a" stroke-width="1.1"/>
<line x1="270.6" y1="216.78" x2="272.3" y2="216.78" stroke="#3a3a3a" stroke-width="1.1"/>
<line x1="270.6" y1="243.32" x2="272.3" y2="243.32" stroke="#3a3a3a" stroke-width="1.1"/>
<line x1="270.6" y1="269.88" x2="272.3" y2="269.88" stroke="#3a3a3a" stroke-width="1.1"/>
<line x1="270.6" y1="296.43" x2="272.3" y2="296.43" stroke="#3a3a3a" stroke-width="1.1"/>
<line x1="270.6" y1="326" x2="272.3" y2="326" stroke="#3a3a3a" stroke-width="1.1"/>
<text x="266.8" y="207" font-size="9.8" text-anchor="end" font-weight="bold" fill="#000" >100</text>
<text x="266.8" y="233.55" font-size="9.8" text-anchor="end" font-weight="bold" fill="#000" >98</text>
<text x="266.8" y="260.1" font-size="9.8" text-anchor="end" font-weight="bold" fill="#000" >96</text>
<text x="266.8" y="286.65" font-size="9.8" text-anchor="end" font-weight="bold" fill="#000" >94</text>
<text x="266.8" y="313.2" font-size="9.8" text-anchor="end" font-weight="bold" fill="#000" >92</text>
<text x="266.8" y="342" font-size="9.8" text-anchor="end" font-weight="bold" fill="#000" >0</text>
<text x="303.9" y="257" font-size="9.6" text-anchor="middle" font-weight="bold" fill="#000" >d=23.93 mm</text>
<text x="363.2" y="257" font-size="9.6" text-anchor="middle" font-weight="bold" fill="#000" >d=13.18 mm</text>
<text x="423" y="257" font-size="9.6" text-anchor="middle" font-weight="bold" fill="#000" >d=2.17 mm</text>
<text x="363.2" y="364" font-size="11.6" text-anchor="middle" font-weight="bold" fill="#000" >Diameter (mm)</text>
<text transform="translate(242.5,273.3) rotate(-90)" font-size="11.9" text-anchor="middle" font-weight="bold" fill="#000">Performance retention (%)</text>
<text x="465.8" y="195.6" font-size="20" text-anchor="start" font-weight="bold" fill="#000" >f</text>
<text x="655.9" y="221" font-size="11.6" text-anchor="middle" font-weight="bold" fill="#000" >~81.0%</text>
<path d="M504.9,284.9 L568.5,284.9" stroke="#38bef6" stroke-width="2"/>
<text x="605.4" y="277.6" font-size="9.6" text-anchor="middle" font-weight="bold" fill="#000" >Bending</text>
<path d="M583,284.4 L621.5,284.4" stroke="#000" stroke-width="1.6"/>
<path d="M620.3,281.4 L627,284.4 L620.3,287.4 Z" fill="#000"/>
<path d="M652,309.2 C653,286 654,262 656.8,254.2 C659.6,262 661.5,286 663,309.2" stroke="#38bef6" stroke-width="2" fill="none"/>
<rect x="494.6" y="190.1" width="184.8" height="148.8" fill="none" stroke="#3a3a3a" stroke-width="1.1"/>
<line x1="495.3" y1="338.9" x2="495.3" y2="335.9" stroke="#3a3a3a" stroke-width="1.1"/>
<line x1="528.3" y1="338.9" x2="528.3" y2="335.9" stroke="#3a3a3a" stroke-width="1.1"/>
<line x1="561.3" y1="338.9" x2="561.3" y2="335.9" stroke="#3a3a3a" stroke-width="1.1"/>
<line x1="594.3" y1="338.9" x2="594.3" y2="335.9" stroke="#3a3a3a" stroke-width="1.1"/>
<line x1="627.3" y1="338.9" x2="627.3" y2="335.9" stroke="#3a3a3a" stroke-width="1.1"/>
<line x1="660.3" y1="338.9" x2="660.3" y2="335.9" stroke="#3a3a3a" stroke-width="1.1"/>
<text x="495.3" y="350.3" font-size="9.4" text-anchor="middle" font-weight="bold" fill="#000" >0</text>
<text x="528.3" y="350.3" font-size="9.4" text-anchor="middle" font-weight="bold" fill="#000" >20000</text>
<text x="561.3" y="350.3" font-size="9.4" text-anchor="middle" font-weight="bold" fill="#000" >40000</text>
<text x="594.3" y="350.3" font-size="9.4" text-anchor="middle" font-weight="bold" fill="#000" >60000</text>
<text x="627.3" y="350.3" font-size="9.4" text-anchor="middle" font-weight="bold" fill="#000" >80000</text>
<text x="660.3" y="350.3" font-size="9.4" text-anchor="middle" font-weight="bold" fill="#000" >100000</text>
<line x1="494.6" y1="338.6" x2="497.6" y2="338.6" stroke="#3a3a3a" stroke-width="1.1"/>
<line x1="494.6" y1="311.58" x2="497.6" y2="311.58" stroke="#3a3a3a" stroke-width="1.1"/>
<line x1="494.6" y1="284.56" x2="497.6" y2="284.56" stroke="#3a3a3a" stroke-width="1.1"/>
<line x1="494.6" y1="257.54" x2="497.6" y2="257.54" stroke="#3a3a3a" stroke-width="1.1"/>
<line x1="494.6" y1="230.52" x2="497.6" y2="230.52" stroke="#3a3a3a" stroke-width="1.1"/>
<line x1="494.6" y1="203.5" x2="497.6" y2="203.5" stroke="#3a3a3a" stroke-width="1.1"/>
<text x="490.8" y="342.1" font-size="9.8" text-anchor="end" font-weight="bold" fill="#000" >0</text>
<text x="490.8" y="315.08" font-size="9.8" text-anchor="end" font-weight="bold" fill="#000" >20</text>
<text x="490.8" y="288.06" font-size="9.8" text-anchor="end" font-weight="bold" fill="#000" >40</text>
<text x="490.8" y="261.04" font-size="9.8" text-anchor="end" font-weight="bold" fill="#000" >60</text>
<text x="490.8" y="234.02" font-size="9.8" text-anchor="end" font-weight="bold" fill="#000" >80</text>
<text x="490.8" y="207" font-size="9.8" text-anchor="end" font-weight="bold" fill="#000" >100</text>
<path d="M495,203.5 L504.3,203.5 L506.9,204.3 L516.6,212.5 L518.1,215 L527.8,216.1 L529.3,217.5 L545.2,217.5 L546.6,219.9 L556.1,219.9 L558.2,222.2 L575.8,222.2 L578,224.4 L581.6,225.8 L590.4,226.3 L592.6,228.1 L620.8,228.1 L621.8,229.3 L677.8,229.3" fill="none" stroke="#f07276" stroke-width="4.6" stroke-linejoin="round" stroke-linecap="butt"/>
<path d="M495,203.5 L504.3,203.5 L506.9,204.3 L516.6,212.5 L518.1,215 L527.8,216.1 L529.3,217.5 L545.2,217.5 L546.6,219.9 L556.1,219.9 L558.2,222.2 L575.8,222.2 L578,224.4 L581.6,225.8 L590.4,226.3 L592.6,228.1 L620.8,228.1 L621.8,229.3 L677.8,229.3" fill="none" stroke="#fff" stroke-width="1.1" stroke-dasharray="1.0 1.5" stroke-linejoin="round"/>
<text x="587.2" y="363.6" font-size="11.6" text-anchor="middle" font-weight="bold" fill="#000" >Bending cycles</text>
<text transform="translate(472.9,272) rotate(-90)" font-size="11.9" text-anchor="middle" font-weight="bold" fill="#000">Performance retention (%)</text>
</svg>
</body></html>
